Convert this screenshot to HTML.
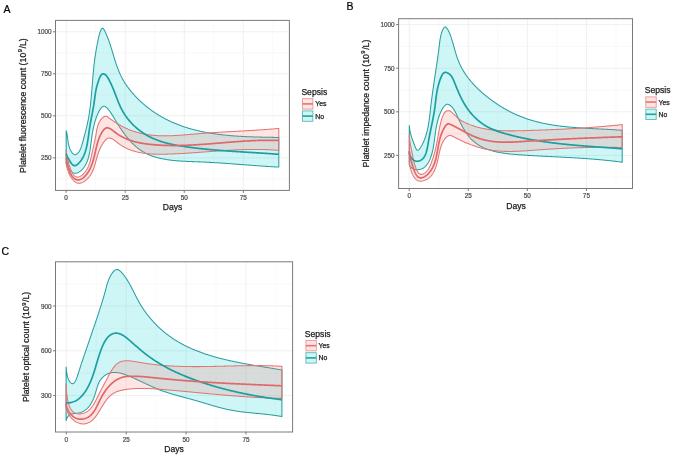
<!DOCTYPE html>
<html><head><meta charset="utf-8"><style>
html,body{margin:0;padding:0;background:#fff;}
svg{display:block;font-family:"Liberation Sans",sans-serif;filter:blur(0.35px);}
.tk{fill:#4d4d4d;stroke:#4d4d4d;stroke-width:0.22px;}
.ti{fill:#1a1a1a;stroke:#1a1a1a;stroke-width:0.25px;}
.pl{fill:#000;stroke:#000;stroke-width:0.2px;}
</style></head><body>
<svg width="675" height="458" viewBox="0 0 675 458">
<rect width="675" height="458" fill="#fff"/>
<rect x="55.5" y="20.4" width="233.89999999999998" height="170.0" fill="#fff"/>
<line x1="95.66" y1="20.4" x2="95.66" y2="190.4" stroke="#F6F6F6" stroke-width="0.7"/>
<line x1="154.73" y1="20.4" x2="154.73" y2="190.4" stroke="#F6F6F6" stroke-width="0.7"/>
<line x1="213.79" y1="20.4" x2="213.79" y2="190.4" stroke="#F6F6F6" stroke-width="0.7"/>
<line x1="272.86" y1="20.4" x2="272.86" y2="190.4" stroke="#F6F6F6" stroke-width="0.7"/>
<line x1="55.5" y1="178.8" x2="289.4" y2="178.8" stroke="#F6F6F6" stroke-width="0.7"/>
<line x1="55.5" y1="136.8" x2="289.4" y2="136.8" stroke="#F6F6F6" stroke-width="0.7"/>
<line x1="55.5" y1="94.8" x2="289.4" y2="94.8" stroke="#F6F6F6" stroke-width="0.7"/>
<line x1="55.5" y1="52.8" x2="289.4" y2="52.8" stroke="#F6F6F6" stroke-width="0.7"/>
<line x1="66.13" y1="20.4" x2="66.13" y2="190.4" stroke="#F0F0F0" stroke-width="1"/>
<line x1="125.19" y1="20.4" x2="125.19" y2="190.4" stroke="#F0F0F0" stroke-width="1"/>
<line x1="184.26" y1="20.4" x2="184.26" y2="190.4" stroke="#F0F0F0" stroke-width="1"/>
<line x1="243.32" y1="20.4" x2="243.32" y2="190.4" stroke="#F0F0F0" stroke-width="1"/>
<line x1="55.5" y1="157.8" x2="289.4" y2="157.8" stroke="#F0F0F0" stroke-width="1"/>
<line x1="55.5" y1="115.8" x2="289.4" y2="115.8" stroke="#F0F0F0" stroke-width="1"/>
<line x1="55.5" y1="73.8" x2="289.4" y2="73.8" stroke="#F0F0F0" stroke-width="1"/>
<line x1="55.5" y1="31.8" x2="289.4" y2="31.8" stroke="#F0F0F0" stroke-width="1"/>
<polygon points="66.20,130.70 66.38,131.32 66.55,131.94 66.70,132.59 66.85,133.24 66.97,133.91 67.09,134.58 67.21,135.27 67.31,135.96 67.41,136.67 67.50,137.38 67.60,138.09 67.69,138.81 67.79,139.53 67.88,140.26 67.98,140.99 68.09,141.71 68.21,142.44 68.33,143.16 68.47,143.88 68.61,144.60 68.78,145.31 68.95,146.02 69.15,146.72 69.36,147.41 69.59,148.09 69.85,148.76 70.13,149.42 70.43,150.07 70.76,150.70 71.12,151.32 71.51,151.92 71.93,152.51 72.38,153.07 72.85,153.58 73.35,154.03 73.86,154.37 74.38,154.61 74.90,154.70 75.43,154.65 75.94,154.49 76.45,154.22 76.93,153.88 77.40,153.49 77.84,153.07 78.26,152.61 78.65,152.11 79.02,151.59 79.38,151.04 79.71,150.46 80.03,149.86 80.33,149.24 80.61,148.59 80.89,147.93 81.14,147.25 81.39,146.56 81.63,145.86 81.86,145.15 82.07,144.43 82.29,143.70 82.49,142.98 82.69,142.25 82.89,141.52 83.09,140.80 83.28,140.08 83.47,139.37 83.66,138.66 83.85,137.95 84.04,137.26 84.23,136.56 84.41,135.87 84.59,135.18 84.77,134.49 84.95,133.81 85.13,133.13 85.31,132.46 85.48,131.79 85.65,131.11 85.82,130.45 85.99,129.78 86.15,129.11 86.31,128.45 86.48,127.78 86.63,127.12 86.79,126.46 86.94,125.80 87.10,125.14 87.24,124.48 87.39,123.81 87.53,123.15 87.68,122.49 87.81,121.83 87.95,121.16 88.08,120.50 88.21,119.83 88.34,119.16 88.47,118.49 88.59,117.82 88.71,117.14 88.82,116.46 88.94,115.79 89.05,115.11 89.16,114.43 89.27,113.74 89.37,113.06 89.48,112.38 89.58,111.69 89.67,111.00 89.77,110.31 89.86,109.62 89.96,108.93 90.05,108.24 90.13,107.55 90.22,106.85 90.31,106.15 90.39,105.46 90.47,104.76 90.55,104.06 90.63,103.36 90.70,102.66 90.78,101.96 90.85,101.26 90.92,100.56 91.00,99.85 91.06,99.15 91.13,98.44 91.20,97.74 91.27,97.03 91.33,96.33 91.40,95.62 91.46,94.91 91.52,94.20 91.58,93.50 91.64,92.79 91.70,92.08 91.76,91.37 91.82,90.66 91.88,89.95 91.94,89.24 92.00,88.53 92.05,87.83 92.11,87.12 92.17,86.41 92.22,85.70 92.28,84.99 92.33,84.28 92.39,83.57 92.45,82.86 92.50,82.15 92.56,81.45 92.61,80.74 92.67,80.03 92.72,79.33 92.78,78.62 92.84,77.92 92.90,77.21 92.95,76.51 93.01,75.81 93.07,75.11 93.13,74.41 93.19,73.71 93.25,73.01 93.31,72.31 93.38,71.62 93.44,70.93 93.50,70.24 93.57,69.55 93.64,68.86 93.70,68.18 93.77,67.49 93.84,66.81 93.91,66.13 93.99,65.46 94.06,64.78 94.13,64.11 94.21,63.44 94.29,62.78 94.37,62.12 94.45,61.45 94.53,60.79 94.62,60.14 94.71,59.48 94.79,58.82 94.88,58.16 94.98,57.51 95.07,56.85 95.17,56.19 95.27,55.53 95.37,54.87 95.47,54.21 95.57,53.55 95.68,52.88 95.79,52.21 95.90,51.54 96.02,50.86 96.14,50.18 96.26,49.49 96.38,48.80 96.50,48.11 96.63,47.41 96.76,46.70 96.90,45.99 97.03,45.27 97.17,44.55 97.32,43.81 97.46,43.07 97.61,42.33 97.76,41.57 97.92,40.81 98.08,40.03 98.24,39.25 98.41,38.46 98.58,37.67 98.75,36.88 98.94,36.09 99.13,35.31 99.32,34.54 99.53,33.79 99.75,33.06 99.98,32.35 100.22,31.67 100.47,31.02 100.74,30.40 101.02,29.82 101.32,29.29 101.64,28.82 101.97,28.47 102.32,28.28 102.68,28.29 103.06,28.48 103.43,28.82 103.78,29.29 104.12,29.84 104.45,30.45 104.77,31.09 105.08,31.73 105.39,32.37 105.69,33.01 105.98,33.66 106.27,34.30 106.55,34.95 106.83,35.60 107.10,36.25 107.37,36.90 107.63,37.55 107.88,38.21 108.14,38.86 108.38,39.52 108.62,40.17 108.86,40.83 109.10,41.49 109.33,42.15 109.56,42.81 109.78,43.47 110.00,44.13 110.22,44.79 110.44,45.45 110.65,46.11 110.86,46.78 111.07,47.44 111.28,48.10 111.48,48.77 111.68,49.43 111.89,50.09 112.09,50.76 112.29,51.42 112.49,52.09 112.69,52.75 112.88,53.41 113.08,54.08 113.28,54.74 113.48,55.40 113.68,56.07 113.88,56.73 114.08,57.39 114.28,58.05 114.48,58.71 114.69,59.37 114.89,60.03 115.10,60.69 115.31,61.35 115.52,62.01 115.73,62.66 115.95,63.32 116.17,63.97 116.39,64.62 116.62,65.28 116.85,65.93 117.08,66.58 117.31,67.22 117.55,67.87 117.80,68.52 118.05,69.16 118.30,69.80 118.55,70.45 118.81,71.08 119.08,71.72 119.35,72.36 119.63,72.99 119.91,73.63 120.19,74.26 120.49,74.88 120.78,75.51 121.09,76.14 121.39,76.76 121.71,77.38 122.03,78.00 122.36,78.61 122.69,79.23 123.03,79.84 123.38,80.45 123.74,81.05 124.10,81.66 124.47,82.26 124.84,82.86 125.23,83.46 125.61,84.05 126.01,84.64 126.41,85.23 126.82,85.81 127.23,86.39 127.65,86.97 128.07,87.55 128.50,88.12 128.93,88.69 129.37,89.26 129.81,89.82 130.26,90.38 130.71,90.94 131.17,91.49 131.62,92.04 132.09,92.59 132.55,93.13 133.03,93.67 133.50,94.20 133.98,94.73 134.46,95.26 134.94,95.78 135.42,96.30 135.91,96.82 136.40,97.33 136.90,97.84 137.39,98.35 137.89,98.85 138.39,99.34 138.90,99.84 139.40,100.33 139.91,100.81 140.43,101.29 140.94,101.77 141.46,102.25 141.98,102.72 142.50,103.19 143.03,103.65 143.56,104.11 144.09,104.56 144.62,105.02 145.16,105.46 145.69,105.91 146.23,106.35 146.78,106.79 147.32,107.22 147.87,107.65 148.42,108.08 148.97,108.50 149.53,108.92 150.08,109.33 150.64,109.75 151.20,110.15 151.77,110.56 152.34,110.96 152.90,111.36 153.47,111.75 154.05,112.14 154.62,112.53 155.20,112.91 155.78,113.29 156.36,113.66 156.94,114.03 157.53,114.40 158.12,114.77 158.71,115.13 159.30,115.49 159.89,115.84 160.49,116.19 161.09,116.54 161.69,116.88 162.29,117.22 162.89,117.56 163.50,117.89 164.11,118.22 164.71,118.54 165.33,118.87 165.94,119.19 166.55,119.50 167.17,119.81 167.79,120.12 168.41,120.43 169.03,120.73 169.66,121.02 170.28,121.32 170.91,121.61 171.54,121.90 172.17,122.18 172.80,122.46 173.43,122.74 174.07,123.01 174.71,123.28 175.35,123.55 175.99,123.81 176.63,124.07 177.27,124.33 177.92,124.58 178.56,124.83 179.21,125.08 179.86,125.32 180.51,125.56 181.16,125.80 181.81,126.03 182.47,126.26 183.13,126.49 183.78,126.71 184.44,126.93 185.10,127.15 185.76,127.36 186.43,127.57 187.09,127.78 187.76,127.98 188.42,128.18 189.09,128.38 189.76,128.58 190.43,128.77 191.10,128.96 191.77,129.14 192.45,129.33 193.12,129.51 193.80,129.68 194.47,129.86 195.15,130.03 195.83,130.20 196.51,130.36 197.19,130.53 197.87,130.69 198.55,130.85 199.24,131.00 199.92,131.16 200.61,131.31 201.29,131.45 201.98,131.60 202.67,131.74 203.36,131.88 204.05,132.02 204.74,132.15 205.43,132.28 206.12,132.41 206.81,132.54 207.51,132.67 208.20,132.79 208.90,132.91 209.59,133.03 210.29,133.14 210.98,133.26 211.68,133.37 212.38,133.48 213.08,133.59 213.78,133.69 214.48,133.79 215.18,133.89 215.88,133.99 216.58,134.09 217.28,134.18 217.98,134.28 218.68,134.37 219.39,134.46 220.09,134.54 220.79,134.63 221.50,134.71 222.20,134.79 222.91,134.87 223.61,134.95 224.32,135.02 225.02,135.10 225.73,135.17 226.44,135.24 227.14,135.31 227.85,135.38 228.56,135.44 229.26,135.50 229.97,135.57 230.68,135.63 231.38,135.69 232.09,135.74 232.80,135.80 233.51,135.86 234.22,135.91 234.92,135.96 235.63,136.01 236.34,136.06 237.05,136.11 237.75,136.16 238.46,136.20 239.17,136.24 239.88,136.29 240.58,136.33 241.29,136.37 242.00,136.41 242.70,136.45 243.41,136.48 244.12,136.52 244.82,136.55 245.53,136.59 246.24,136.62 246.94,136.65 247.65,136.68 248.35,136.71 249.06,136.74 249.76,136.77 250.46,136.80 251.17,136.83 251.87,136.85 252.57,136.88 253.27,136.90 253.98,136.92 254.68,136.95 255.38,136.97 256.08,136.99 256.78,137.01 257.48,137.03 258.18,137.05 258.87,137.07 259.57,137.09 260.27,137.11 260.96,137.12 261.66,137.14 262.35,137.16 263.05,137.17 263.74,137.19 264.44,137.20 265.13,137.22 265.82,137.23 266.51,137.25 267.20,137.26 267.89,137.28 268.58,137.29 269.26,137.30 269.95,137.32 270.64,137.33 271.32,137.34 272.00,137.36 272.69,137.37 273.37,137.38 274.05,137.40 274.73,137.41 275.41,137.42 276.09,137.44 276.76,137.45 277.44,137.46 278.11,137.48 278.79,137.49 278.81,167.09 278.08,167.06 277.35,167.02 276.62,166.98 275.90,166.94 275.17,166.90 274.45,166.86 273.73,166.82 273.01,166.77 272.29,166.73 271.57,166.69 270.86,166.65 270.14,166.60 269.43,166.56 268.72,166.51 268.01,166.47 267.30,166.42 266.59,166.38 265.88,166.33 265.18,166.29 264.47,166.24 263.77,166.19 263.07,166.15 262.36,166.10 261.66,166.05 260.96,166.00 260.26,165.95 259.57,165.90 258.87,165.85 258.17,165.81 257.48,165.76 256.79,165.71 256.09,165.66 255.40,165.61 254.71,165.55 254.02,165.50 253.33,165.45 252.64,165.40 251.95,165.35 251.26,165.30 250.57,165.25 249.88,165.20 249.20,165.14 248.51,165.09 247.83,165.04 247.14,164.99 246.46,164.94 245.77,164.89 245.09,164.83 244.40,164.78 243.72,164.73 243.04,164.68 242.36,164.62 241.67,164.57 240.99,164.52 240.31,164.47 239.63,164.42 238.95,164.36 238.27,164.31 237.59,164.26 236.91,164.21 236.22,164.16 235.54,164.11 234.86,164.06 234.18,164.00 233.50,163.95 232.82,163.90 232.14,163.85 231.46,163.80 230.78,163.75 230.10,163.70 229.42,163.65 228.74,163.60 228.05,163.55 227.37,163.50 226.69,163.45 226.01,163.41 225.32,163.36 224.64,163.31 223.96,163.26 223.27,163.21 222.59,163.17 221.90,163.12 221.22,163.08 220.53,163.03 219.85,162.98 219.16,162.94 218.47,162.89 217.79,162.85 217.10,162.81 216.41,162.76 215.72,162.72 215.03,162.68 214.34,162.64 213.64,162.59 212.95,162.55 212.26,162.51 211.56,162.47 210.87,162.43 210.17,162.39 209.47,162.36 208.78,162.32 208.08,162.28 207.38,162.24 206.68,162.21 205.98,162.17 205.27,162.14 204.57,162.10 203.86,162.07 203.16,162.04 202.45,162.01 201.74,161.98 201.03,161.94 200.32,161.91 199.61,161.89 198.89,161.86 198.18,161.83 197.46,161.80 196.75,161.77 196.03,161.75 195.31,161.72 194.59,161.69 193.87,161.67 193.15,161.64 192.43,161.62 191.70,161.59 190.98,161.56 190.26,161.53 189.53,161.50 188.81,161.47 188.09,161.44 187.36,161.41 186.64,161.38 185.91,161.35 185.19,161.31 184.47,161.27 183.74,161.24 183.02,161.20 182.29,161.15 181.57,161.11 180.85,161.07 180.13,161.02 179.41,160.97 178.69,160.92 177.97,160.86 177.25,160.81 176.53,160.75 175.81,160.68 175.10,160.62 174.38,160.55 173.67,160.48 172.96,160.41 172.25,160.33 171.54,160.25 170.83,160.16 170.13,160.07 169.42,159.98 168.72,159.89 168.02,159.79 167.32,159.68 166.62,159.58 165.93,159.46 165.24,159.35 164.55,159.23 163.86,159.10 163.17,158.97 162.49,158.83 161.81,158.69 161.13,158.55 160.45,158.40 159.78,158.24 159.11,158.08 158.44,157.92 157.78,157.74 157.12,157.57 156.46,157.38 155.80,157.19 155.15,157.00 154.50,156.80 153.86,156.59 153.21,156.38 152.57,156.16 151.94,155.93 151.31,155.69 150.68,155.45 150.05,155.21 149.43,154.95 148.82,154.69 148.21,154.42 147.60,154.15 146.99,153.86 146.39,153.57 145.80,153.27 145.21,152.97 144.62,152.65 144.04,152.33 143.46,152.00 142.88,151.66 142.32,151.31 141.75,150.96 141.19,150.59 140.64,150.22 140.09,149.84 139.54,149.45 139.00,149.06 138.47,148.65 137.94,148.24 137.41,147.82 136.89,147.40 136.37,146.97 135.85,146.53 135.34,146.08 134.84,145.63 134.33,145.17 133.84,144.70 133.34,144.23 132.85,143.75 132.37,143.26 131.88,142.77 131.41,142.27 130.93,141.77 130.46,141.26 129.99,140.75 129.53,140.23 129.07,139.71 128.61,139.18 128.16,138.64 127.71,138.11 127.26,137.56 126.82,137.01 126.37,136.46 125.94,135.91 125.50,135.35 125.07,134.78 124.64,134.22 124.22,133.64 123.80,133.07 123.38,132.49 122.96,131.91 122.54,131.32 122.13,130.74 121.72,130.15 121.32,129.55 120.91,128.96 120.51,128.36 120.11,127.76 119.72,127.16 119.32,126.55 118.93,125.95 118.54,125.34 118.15,124.73 117.77,124.12 117.38,123.51 117.00,122.89 116.62,122.28 116.25,121.66 115.87,121.04 115.50,120.43 115.12,119.81 114.75,119.19 114.38,118.57 114.02,117.95 113.65,117.34 113.28,116.72 112.91,116.10 112.55,115.49 112.17,114.88 111.80,114.28 111.42,113.68 111.03,113.09 110.63,112.51 110.23,111.93 109.82,111.36 109.40,110.81 108.97,110.26 108.52,109.72 108.07,109.20 107.59,108.69 107.11,108.20 106.61,107.72 106.09,107.28 105.58,106.90 105.06,106.59 104.54,106.36 104.04,106.25 103.55,106.26 103.07,106.39 102.60,106.63 102.15,106.95 101.72,107.34 101.29,107.79 100.88,108.29 100.49,108.83 100.10,109.41 99.73,110.03 99.37,110.67 99.02,111.33 98.68,112.01 98.35,112.70 98.03,113.39 97.73,114.09 97.43,114.78 97.15,115.47 96.87,116.15 96.61,116.84 96.35,117.52 96.10,118.19 95.87,118.87 95.64,119.54 95.42,120.21 95.20,120.87 95.00,121.54 94.80,122.20 94.61,122.86 94.43,123.52 94.25,124.18 94.08,124.84 93.92,125.50 93.76,126.16 93.61,126.81 93.46,127.47 93.32,128.13 93.18,128.79 93.05,129.44 92.92,130.10 92.80,130.76 92.68,131.42 92.57,132.08 92.46,132.75 92.35,133.41 92.24,134.08 92.14,134.75 92.04,135.42 91.94,136.09 91.85,136.77 91.75,137.45 91.66,138.13 91.57,138.82 91.48,139.51 91.39,140.20 91.30,140.89 91.21,141.59 91.12,142.30 91.03,143.01 90.93,143.72 90.84,144.44 90.75,145.16 90.65,145.88 90.56,146.61 90.45,147.33 90.35,148.06 90.24,148.79 90.13,149.51 90.01,150.24 89.89,150.97 89.77,151.69 89.63,152.42 89.49,153.14 89.35,153.86 89.20,154.57 89.04,155.28 88.87,155.99 88.69,156.69 88.51,157.38 88.31,158.07 88.11,158.75 87.89,159.43 87.67,160.10 87.44,160.76 87.19,161.41 86.93,162.05 86.66,162.69 86.38,163.31 86.08,163.92 85.77,164.52 85.45,165.11 85.11,165.69 84.76,166.25 84.39,166.80 84.01,167.34 83.61,167.87 83.20,168.37 82.77,168.87 82.32,169.35 81.85,169.81 81.37,170.25 80.87,170.68 80.34,171.09 79.80,171.48 79.24,171.86 78.67,172.20 78.08,172.51 77.48,172.77 76.87,172.99 76.26,173.15 75.64,173.24 75.02,173.27 74.40,173.22 73.78,173.09 73.17,172.87 72.57,172.55 71.98,172.13 71.40,171.63 70.84,171.06 70.29,170.43 69.77,169.75 69.27,169.05 68.79,168.32 68.35,167.59 67.93,166.88 67.54,166.18 67.20,165.52 66.89,164.91 66.62,164.36 66.39,163.89 66.20,163.51" fill="#00CDD2" fill-opacity="0.19" stroke="#2A9E9F" stroke-width="1.05" stroke-linejoin="round"/>
<polygon points="66.21,150.00 66.29,150.78 66.38,151.54 66.47,152.28 66.56,153.00 66.66,153.71 66.76,154.40 66.86,155.07 66.96,155.73 67.07,156.39 67.18,157.03 67.30,157.66 67.43,158.29 67.56,158.92 67.70,159.54 67.84,160.16 67.99,160.79 68.15,161.41 68.32,162.04 68.50,162.68 68.69,163.32 68.89,163.97 69.10,164.63 69.32,165.30 69.55,165.99 69.79,166.70 70.05,167.42 70.32,168.16 70.60,168.91 70.90,169.66 71.21,170.42 71.54,171.17 71.88,171.90 72.24,172.61 72.61,173.30 73.00,173.95 73.41,174.55 73.84,175.11 74.28,175.61 74.75,176.05 75.23,176.42 75.73,176.72 76.26,176.93 76.80,177.06 77.36,177.12 77.92,177.09 78.50,177.00 79.08,176.84 79.67,176.63 80.25,176.35 80.83,176.02 81.39,175.64 81.95,175.22 82.50,174.76 83.04,174.27 83.56,173.74 84.07,173.19 84.56,172.61 85.03,172.02 85.48,171.41 85.92,170.79 86.33,170.17 86.72,169.54 87.09,168.92 87.43,168.29 87.76,167.67 88.07,167.04 88.36,166.41 88.63,165.78 88.89,165.15 89.13,164.51 89.36,163.88 89.58,163.25 89.78,162.61 89.98,161.97 90.16,161.33 90.33,160.69 90.50,160.05 90.66,159.41 90.81,158.76 90.96,158.11 91.10,157.47 91.24,156.82 91.38,156.16 91.52,155.51 91.65,154.85 91.79,154.20 91.93,153.54 92.07,152.88 92.22,152.21 92.36,151.55 92.51,150.88 92.66,150.21 92.81,149.54 92.96,148.86 93.12,148.19 93.27,147.51 93.42,146.83 93.58,146.14 93.73,145.45 93.89,144.77 94.04,144.07 94.19,143.38 94.35,142.68 94.50,141.98 94.65,141.28 94.80,140.57 94.95,139.87 95.09,139.16 95.24,138.44 95.38,137.72 95.52,137.00 95.65,136.28 95.79,135.55 95.92,134.82 96.05,134.09 96.17,133.36 96.30,132.62 96.42,131.88 96.55,131.14 96.68,130.41 96.82,129.68 96.96,128.95 97.12,128.23 97.28,127.51 97.46,126.80 97.65,126.10 97.86,125.42 98.09,124.74 98.33,124.07 98.60,123.42 98.89,122.79 99.20,122.17 99.54,121.57 99.90,120.98 100.28,120.42 100.69,119.88 101.10,119.36 101.54,118.86 101.99,118.39 102.45,117.95 102.92,117.53 103.39,117.14 103.88,116.79 104.37,116.49 104.86,116.27 105.37,116.15 105.88,116.14 106.40,116.26 106.92,116.49 107.45,116.80 107.98,117.17 108.52,117.58 109.07,117.99 109.62,118.40 110.17,118.81 110.73,119.22 111.30,119.62 111.87,120.03 112.45,120.43 113.03,120.82 113.61,121.22 114.20,121.61 114.80,122.00 115.39,122.38 116.00,122.76 116.60,123.14 117.21,123.51 117.82,123.88 118.44,124.25 119.06,124.61 119.68,124.96 120.31,125.32 120.93,125.66 121.57,126.00 122.20,126.34 122.84,126.67 123.47,127.00 124.12,127.32 124.76,127.64 125.40,127.95 126.05,128.25 126.70,128.55 127.35,128.84 128.00,129.13 128.65,129.40 129.30,129.68 129.96,129.94 130.61,130.20 131.27,130.45 131.93,130.70 132.58,130.93 133.24,131.16 133.90,131.39 134.56,131.61 135.22,131.82 135.88,132.02 136.55,132.22 137.21,132.41 137.87,132.60 138.54,132.78 139.20,132.95 139.87,133.12 140.54,133.28 141.20,133.44 141.87,133.59 142.54,133.73 143.21,133.87 143.88,134.00 144.55,134.13 145.22,134.25 145.89,134.37 146.57,134.48 147.24,134.59 147.92,134.69 148.59,134.79 149.27,134.88 149.94,134.97 150.62,135.05 151.30,135.13 151.97,135.20 152.65,135.27 153.33,135.33 154.01,135.39 154.69,135.45 155.37,135.50 156.05,135.55 156.73,135.59 157.42,135.63 158.10,135.67 158.78,135.70 159.47,135.73 160.15,135.75 160.84,135.77 161.52,135.79 162.21,135.80 162.90,135.81 163.58,135.82 164.27,135.82 164.96,135.82 165.65,135.82 166.34,135.82 167.02,135.81 167.71,135.80 168.40,135.78 169.10,135.77 169.79,135.75 170.48,135.73 171.17,135.70 171.86,135.68 172.56,135.65 173.25,135.62 173.94,135.58 174.64,135.55 175.33,135.51 176.03,135.47 176.72,135.43 177.42,135.39 178.11,135.35 178.81,135.30 179.51,135.25 180.20,135.21 180.90,135.16 181.60,135.11 182.30,135.05 182.99,135.00 183.69,134.95 184.39,134.89 185.09,134.83 185.79,134.78 186.49,134.72 187.19,134.66 187.89,134.60 188.59,134.54 189.29,134.48 189.99,134.42 190.69,134.36 191.40,134.30 192.10,134.24 192.80,134.18 193.50,134.12 194.20,134.06 194.91,133.99 195.61,133.93 196.31,133.87 197.02,133.81 197.72,133.76 198.42,133.70 199.13,133.64 199.83,133.58 200.53,133.53 201.24,133.47 201.94,133.42 202.65,133.36 203.35,133.31 204.06,133.25 204.76,133.20 205.47,133.15 206.17,133.10 206.88,133.05 207.58,133.00 208.29,132.95 208.99,132.90 209.70,132.85 210.40,132.81 211.11,132.76 211.81,132.71 212.52,132.67 213.22,132.62 213.93,132.58 214.64,132.53 215.34,132.49 216.05,132.44 216.75,132.40 217.46,132.36 218.16,132.31 218.87,132.27 219.58,132.23 220.28,132.19 220.99,132.15 221.69,132.11 222.40,132.07 223.10,132.03 223.81,131.98 224.51,131.95 225.22,131.91 225.92,131.87 226.63,131.83 227.33,131.79 228.04,131.75 228.74,131.71 229.45,131.67 230.15,131.63 230.86,131.60 231.56,131.56 232.27,131.52 232.97,131.48 233.67,131.44 234.38,131.40 235.08,131.37 235.78,131.33 236.49,131.29 237.19,131.25 237.89,131.22 238.60,131.18 239.30,131.14 240.00,131.10 240.70,131.06 241.40,131.02 242.11,130.99 242.81,130.95 243.51,130.91 244.21,130.87 244.91,130.83 245.61,130.79 246.31,130.75 247.01,130.71 247.71,130.67 248.41,130.63 249.11,130.59 249.81,130.55 250.50,130.51 251.20,130.47 251.90,130.43 252.60,130.39 253.29,130.34 253.99,130.30 254.69,130.26 255.38,130.21 256.08,130.17 256.77,130.13 257.47,130.08 258.16,130.04 258.86,129.99 259.55,129.94 260.24,129.90 260.94,129.85 261.63,129.80 262.32,129.75 263.01,129.70 263.70,129.66 264.39,129.61 265.08,129.56 265.77,129.50 266.46,129.45 267.15,129.40 267.84,129.35 268.53,129.29 269.22,129.24 269.90,129.18 270.59,129.13 271.28,129.07 271.96,129.01 272.65,128.96 273.33,128.90 274.02,128.84 274.70,128.78 275.38,128.71 276.06,128.65 276.75,128.59 277.43,128.53 278.11,128.46 278.79,128.40 278.81,150.43 278.10,150.37 277.39,150.31 276.68,150.25 275.98,150.20 275.27,150.14 274.56,150.09 273.86,150.04 273.15,150.00 272.45,149.95 271.74,149.91 271.04,149.87 270.33,149.83 269.63,149.79 268.93,149.76 268.22,149.72 267.52,149.69 266.82,149.66 266.12,149.64 265.41,149.61 264.71,149.59 264.01,149.56 263.31,149.54 262.61,149.53 261.91,149.51 261.21,149.49 260.51,149.48 259.81,149.47 259.11,149.46 258.41,149.45 257.71,149.44 257.01,149.44 256.31,149.43 255.61,149.43 254.92,149.43 254.22,149.43 253.52,149.43 252.82,149.43 252.13,149.44 251.43,149.45 250.73,149.45 250.04,149.46 249.34,149.47 248.64,149.48 247.95,149.50 247.25,149.51 246.56,149.53 245.86,149.54 245.17,149.56 244.47,149.58 243.78,149.60 243.08,149.62 242.39,149.64 241.69,149.67 241.00,149.69 240.30,149.72 239.61,149.74 238.92,149.77 238.22,149.80 237.53,149.83 236.83,149.86 236.14,149.89 235.45,149.92 234.75,149.96 234.06,149.99 233.37,150.03 232.67,150.06 231.98,150.10 231.29,150.14 230.60,150.17 229.90,150.21 229.21,150.25 228.52,150.29 227.82,150.33 227.13,150.38 226.44,150.42 225.75,150.46 225.05,150.51 224.36,150.55 223.67,150.59 222.98,150.64 222.29,150.69 221.59,150.73 220.90,150.78 220.21,150.83 219.52,150.87 218.82,150.92 218.13,150.97 217.44,151.02 216.75,151.07 216.05,151.12 215.36,151.17 214.67,151.22 213.98,151.27 213.28,151.32 212.59,151.37 211.90,151.42 211.21,151.47 210.51,151.52 209.82,151.57 209.13,151.62 208.44,151.67 207.74,151.73 207.05,151.78 206.36,151.83 205.66,151.88 204.97,151.93 204.28,151.98 203.58,152.04 202.89,152.09 202.19,152.14 201.50,152.19 200.81,152.24 200.11,152.29 199.42,152.34 198.72,152.39 198.03,152.44 197.33,152.49 196.64,152.54 195.94,152.59 195.25,152.64 194.55,152.69 193.86,152.74 193.16,152.79 192.47,152.83 191.77,152.88 191.07,152.93 190.38,152.98 189.68,153.02 188.98,153.07 188.29,153.11 187.59,153.16 186.89,153.20 186.19,153.24 185.50,153.29 184.80,153.33 184.10,153.37 183.40,153.41 182.70,153.45 182.00,153.49 181.30,153.53 180.60,153.56 179.90,153.60 179.20,153.64 178.50,153.67 177.80,153.71 177.10,153.74 176.40,153.77 175.70,153.81 175.00,153.84 174.29,153.87 173.59,153.90 172.89,153.92 172.19,153.95 171.48,153.98 170.78,154.00 170.07,154.03 169.37,154.05 168.66,154.07 167.96,154.09 167.25,154.11 166.55,154.13 165.84,154.15 165.14,154.16 164.43,154.18 163.72,154.19 163.02,154.20 162.31,154.21 161.60,154.21 160.89,154.22 160.19,154.22 159.48,154.22 158.77,154.22 158.07,154.21 157.36,154.20 156.66,154.19 155.95,154.17 155.25,154.15 154.54,154.13 153.84,154.11 153.14,154.08 152.43,154.04 151.73,154.00 151.03,153.96 150.33,153.91 149.63,153.86 148.94,153.81 148.24,153.75 147.54,153.68 146.85,153.61 146.15,153.53 145.46,153.45 144.77,153.37 144.08,153.27 143.39,153.17 142.71,153.07 142.02,152.96 141.34,152.84 140.65,152.72 139.97,152.59 139.29,152.45 138.62,152.31 137.94,152.16 137.27,152.00 136.60,151.84 135.93,151.66 135.26,151.48 134.59,151.30 133.93,151.10 133.27,150.90 132.61,150.69 131.95,150.47 131.30,150.24 130.65,150.00 130.00,149.76 129.35,149.50 128.71,149.24 128.06,148.97 127.42,148.68 126.79,148.39 126.15,148.09 125.52,147.78 124.90,147.46 124.27,147.13 123.65,146.79 123.03,146.44 122.41,146.08 121.80,145.71 121.19,145.32 120.59,144.93 119.98,144.53 119.38,144.11 118.79,143.69 118.19,143.25 117.61,142.80 117.02,142.34 116.44,141.89 115.86,141.44 115.28,141.00 114.71,140.57 114.15,140.16 113.58,139.77 113.03,139.41 112.47,139.08 111.92,138.79 111.37,138.54 110.83,138.34 110.29,138.19 109.76,138.10 109.23,138.07 108.70,138.10 108.18,138.21 107.66,138.39 107.15,138.65 106.65,138.99 106.15,139.40 105.65,139.87 105.17,140.39 104.70,140.95 104.23,141.54 103.79,142.16 103.35,142.78 102.93,143.41 102.53,144.04 102.14,144.68 101.76,145.33 101.40,145.97 101.05,146.63 100.71,147.28 100.39,147.94 100.07,148.61 99.77,149.28 99.49,149.95 99.21,150.62 98.95,151.29 98.69,151.97 98.45,152.65 98.21,153.33 97.98,154.01 97.76,154.69 97.55,155.38 97.34,156.06 97.14,156.75 96.94,157.43 96.75,158.12 96.56,158.80 96.37,159.48 96.18,160.16 95.99,160.84 95.81,161.52 95.62,162.20 95.43,162.87 95.24,163.54 95.04,164.21 94.84,164.88 94.64,165.54 94.43,166.20 94.22,166.86 94.00,167.51 93.77,168.16 93.53,168.80 93.28,169.44 93.03,170.07 92.76,170.69 92.48,171.31 92.19,171.93 91.89,172.54 91.57,173.14 91.24,173.74 90.89,174.32 90.53,174.90 90.15,175.48 89.75,176.04 89.34,176.60 88.90,177.15 88.45,177.69 87.97,178.22 87.48,178.74 86.97,179.24 86.45,179.73 85.91,180.19 85.36,180.64 84.80,181.05 84.22,181.44 83.64,181.80 83.06,182.13 82.46,182.42 81.87,182.68 81.27,182.89 80.67,183.06 80.07,183.18 79.48,183.25 78.89,183.27 78.30,183.24 77.72,183.15 77.15,183.01 76.59,182.80 76.04,182.54 75.49,182.22 74.96,181.86 74.44,181.45 73.93,180.99 73.43,180.50 72.95,179.96 72.48,179.39 72.02,178.79 71.57,178.16 71.14,177.50 70.73,176.83 70.33,176.13 69.94,175.41 69.57,174.68 69.22,173.94 68.89,173.19 68.57,172.43 68.27,171.68 67.99,170.92 67.72,170.17 67.48,169.42 67.26,168.69 67.05,167.96 66.87,167.25 66.71,166.57 66.57,165.90 66.45,165.26 66.36,164.64 66.29,164.06 66.24,163.50 66.22,162.99 66.22,162.51" fill="#F8766D" fill-opacity="0.2" stroke="#E07676" stroke-width="1.05" stroke-linejoin="round"/>
<polyline points="66.20,153.60 66.33,154.23 66.51,154.84 66.72,155.43 66.97,156.02 67.25,156.61 67.57,157.20 67.91,157.80 68.28,158.43 68.67,159.08 69.09,159.76 69.53,160.49 69.98,161.24 70.46,162.00 70.95,162.74 71.45,163.44 71.96,164.08 72.48,164.63 73.01,165.08 73.55,165.39 74.08,165.57 74.62,165.63 75.16,165.58 75.69,165.43 76.22,165.19 76.74,164.88 77.26,164.52 77.76,164.11 78.25,163.66 78.72,163.20 79.18,162.72 79.62,162.23 80.04,161.73 80.46,161.22 80.85,160.69 81.24,160.16 81.61,159.61 81.96,159.05 82.30,158.49 82.63,157.91 82.95,157.32 83.25,156.73 83.55,156.12 83.83,155.51 84.10,154.89 84.36,154.26 84.60,153.62 84.84,152.98 85.07,152.32 85.29,151.67 85.50,151.00 85.70,150.33 85.90,149.66 86.08,148.97 86.26,148.29 86.43,147.60 86.60,146.90 86.75,146.20 86.90,145.50 87.05,144.79 87.19,144.08 87.32,143.37 87.45,142.65 87.58,141.93 87.70,141.21 87.81,140.49 87.93,139.77 88.04,139.04 88.15,138.32 88.25,137.60 88.35,136.87 88.46,136.15 88.56,135.42 88.66,134.70 88.75,133.98 88.85,133.26 88.95,132.54 89.05,131.83 89.15,131.12 89.25,130.41 89.35,129.70 89.46,129.00 89.56,128.30 89.67,127.60 89.78,126.91 89.89,126.22 90.01,125.54 90.12,124.86 90.24,124.18 90.36,123.50 90.48,122.83 90.60,122.15 90.72,121.48 90.85,120.81 90.97,120.15 91.10,119.48 91.22,118.82 91.35,118.15 91.48,117.49 91.60,116.83 91.73,116.16 91.86,115.50 91.99,114.84 92.11,114.18 92.24,113.51 92.36,112.85 92.49,112.18 92.61,111.51 92.74,110.85 92.86,110.18 92.98,109.50 93.10,108.83 93.22,108.15 93.34,107.47 93.45,106.79 93.56,106.10 93.68,105.42 93.79,104.72 93.89,104.03 94.00,103.33 94.10,102.62 94.20,101.92 94.30,101.20 94.40,100.49 94.49,99.77 94.59,99.05 94.68,98.34 94.78,97.62 94.88,96.90 94.97,96.18 95.07,95.47 95.17,94.75 95.28,94.05 95.39,93.34 95.50,92.64 95.61,91.95 95.73,91.26 95.86,90.58 95.99,89.90 96.13,89.24 96.27,88.58 96.42,87.94 96.58,87.29 96.75,86.65 96.92,86.01 97.11,85.37 97.30,84.71 97.50,84.04 97.72,83.35 97.94,82.65 98.18,81.92 98.42,81.16 98.68,80.37 98.96,79.57 99.24,78.78 99.54,78.01 99.86,77.27 100.18,76.59 100.53,75.98 100.89,75.44 101.26,74.98 101.64,74.60 102.03,74.29 102.43,74.07 102.84,73.92 103.25,73.85 103.67,73.87 104.09,73.96 104.51,74.14 104.93,74.39 105.35,74.71 105.77,75.09 106.18,75.53 106.59,76.03 106.99,76.56 107.39,77.13 107.78,77.74 108.16,78.37 108.54,79.02 108.91,79.68 109.27,80.35 109.62,81.02 109.96,81.69 110.30,82.37 110.63,83.04 110.95,83.71 111.27,84.38 111.57,85.05 111.88,85.73 112.17,86.40 112.46,87.07 112.75,87.74 113.03,88.41 113.31,89.08 113.58,89.75 113.85,90.42 114.11,91.08 114.37,91.75 114.63,92.42 114.89,93.08 115.14,93.74 115.40,94.40 115.65,95.07 115.90,95.72 116.15,96.38 116.40,97.04 116.65,97.69 116.90,98.35 117.15,99.00 117.40,99.65 117.66,100.30 117.91,100.94 118.17,101.58 118.43,102.23 118.69,102.87 118.96,103.50 119.23,104.14 119.50,104.77 119.78,105.40 120.06,106.03 120.35,106.65 120.64,107.27 120.94,107.89 121.25,108.51 121.56,109.12 121.87,109.73 122.20,110.34 122.53,110.94 122.87,111.54 123.21,112.14 123.57,112.73 123.93,113.32 124.30,113.91 124.67,114.49 125.06,115.07 125.45,115.65 125.84,116.22 126.25,116.79 126.66,117.35 127.08,117.91 127.50,118.47 127.93,119.02 128.37,119.57 128.81,120.11 129.26,120.65 129.72,121.18 130.18,121.71 130.65,122.23 131.12,122.75 131.60,123.27 132.08,123.78 132.57,124.28 133.07,124.78 133.57,125.27 134.08,125.76 134.59,126.25 135.10,126.73 135.63,127.20 136.15,127.67 136.68,128.13 137.22,128.58 137.76,129.03 138.31,129.48 138.86,129.92 139.41,130.35 139.97,130.77 140.53,131.19 141.10,131.61 141.67,132.02 142.24,132.42 142.82,132.81 143.40,133.20 143.99,133.58 144.58,133.96 145.17,134.32 145.77,134.69 146.37,135.04 146.97,135.39 147.57,135.73 148.18,136.06 148.79,136.39 149.41,136.71 150.02,137.02 150.64,137.33 151.27,137.63 151.89,137.92 152.52,138.21 153.15,138.49 153.78,138.77 154.42,139.04 155.06,139.30 155.70,139.56 156.34,139.81 156.99,140.06 157.63,140.30 158.28,140.54 158.94,140.77 159.59,140.99 160.25,141.21 160.90,141.43 161.56,141.64 162.22,141.84 162.89,142.05 163.55,142.24 164.22,142.43 164.89,142.62 165.56,142.81 166.23,142.98 166.90,143.16 167.58,143.33 168.26,143.50 168.93,143.66 169.61,143.82 170.29,143.98 170.97,144.13 171.66,144.28 172.34,144.43 173.03,144.57 173.71,144.71 174.40,144.85 175.09,144.98 175.77,145.11 176.46,145.24 177.15,145.36 177.84,145.49 178.53,145.61 179.23,145.73 179.92,145.84 180.61,145.96 181.31,146.07 182.00,146.18 182.69,146.28 183.39,146.39 184.08,146.50 184.78,146.60 185.47,146.70 186.17,146.80 186.86,146.90 187.56,147.00 188.25,147.09 188.95,147.19 189.64,147.28 190.34,147.38 191.03,147.47 191.73,147.56 192.42,147.65 193.12,147.73 193.81,147.82 194.51,147.91 195.20,147.99 195.90,148.08 196.59,148.16 197.29,148.24 197.98,148.32 198.68,148.40 199.37,148.48 200.07,148.56 200.76,148.63 201.46,148.71 202.16,148.78 202.85,148.86 203.55,148.93 204.24,149.00 204.94,149.07 205.63,149.14 206.33,149.21 207.02,149.28 207.72,149.35 208.41,149.41 209.11,149.48 209.81,149.55 210.50,149.61 211.20,149.67 211.89,149.74 212.59,149.80 213.28,149.86 213.98,149.92 214.68,149.98 215.37,150.04 216.07,150.10 216.76,150.15 217.46,150.21 218.16,150.27 218.85,150.32 219.55,150.38 220.24,150.43 220.94,150.49 221.64,150.54 222.33,150.59 223.03,150.65 223.72,150.70 224.42,150.75 225.12,150.80 225.81,150.85 226.51,150.90 227.20,150.95 227.90,151.00 228.60,151.05 229.29,151.09 229.99,151.14 230.69,151.19 231.38,151.24 232.08,151.28 232.77,151.33 233.47,151.37 234.17,151.42 234.86,151.47 235.56,151.51 236.26,151.56 236.95,151.60 237.65,151.64 238.35,151.69 239.04,151.73 239.74,151.77 240.44,151.82 241.13,151.86 241.83,151.90 242.53,151.95 243.22,151.99 243.92,152.03 244.62,152.07 245.31,152.12 246.01,152.16 246.71,152.20 247.41,152.24 248.10,152.29 248.80,152.33 249.50,152.37 250.19,152.41 250.89,152.45 251.59,152.50 252.28,152.54 252.98,152.58 253.68,152.62 254.38,152.66 255.07,152.71 255.77,152.75 256.47,152.79 257.17,152.83 257.86,152.88 258.56,152.92 259.26,152.96 259.96,153.01 260.65,153.05 261.35,153.10 262.05,153.14 262.75,153.18 263.44,153.23 264.14,153.27 264.84,153.32 265.54,153.36 266.23,153.41 266.93,153.46 267.63,153.50 268.33,153.55 269.03,153.60 269.72,153.64 270.42,153.69 271.12,153.74 271.82,153.79 272.52,153.84 273.21,153.89 273.91,153.94 274.61,153.99 275.31,154.04 276.01,154.09 276.71,154.15 277.40,154.20 278.10,154.25 278.80,154.31" fill="none" stroke="#1C9FA2" stroke-width="1.7" stroke-linejoin="round"/>
<polyline points="66.21,158.32 66.33,158.75 66.45,159.22 66.58,159.74 66.71,160.30 66.84,160.89 66.97,161.53 67.12,162.19 67.26,162.88 67.42,163.59 67.59,164.33 67.76,165.08 67.95,165.85 68.14,166.63 68.35,167.41 68.58,168.21 68.82,169.00 69.07,169.79 69.34,170.57 69.63,171.34 69.94,172.11 70.26,172.85 70.61,173.58 70.98,174.28 71.37,174.96 71.78,175.61 72.21,176.23 72.66,176.82 73.12,177.36 73.60,177.86 74.09,178.32 74.60,178.72 75.12,179.08 75.65,179.37 76.20,179.61 76.75,179.79 77.31,179.90 77.88,179.95 78.46,179.94 79.03,179.87 79.61,179.74 80.19,179.56 80.76,179.34 81.33,179.07 81.89,178.75 82.44,178.40 82.98,178.01 83.51,177.59 84.03,177.14 84.53,176.66 85.03,176.16 85.50,175.64 85.97,175.10 86.42,174.55 86.85,173.98 87.27,173.41 87.68,172.83 88.07,172.25 88.44,171.66 88.80,171.06 89.15,170.46 89.48,169.85 89.81,169.23 90.12,168.62 90.41,167.99 90.70,167.36 90.98,166.73 91.24,166.09 91.50,165.44 91.74,164.80 91.98,164.15 92.21,163.49 92.43,162.83 92.65,162.17 92.86,161.50 93.06,160.84 93.25,160.16 93.44,159.49 93.62,158.81 93.80,158.13 93.98,157.45 94.15,156.77 94.32,156.08 94.48,155.40 94.64,154.71 94.81,154.02 94.97,153.33 95.12,152.64 95.28,151.95 95.44,151.25 95.60,150.56 95.76,149.87 95.92,149.17 96.08,148.48 96.25,147.79 96.42,147.10 96.59,146.41 96.76,145.72 96.94,145.03 97.13,144.34 97.32,143.65 97.51,142.97 97.71,142.29 97.92,141.61 98.14,140.93 98.36,140.25 98.59,139.58 98.83,138.91 99.09,138.24 99.35,137.58 99.62,136.92 99.91,136.26 100.21,135.61 100.53,134.96 100.85,134.31 101.20,133.67 101.55,133.03 101.93,132.40 102.32,131.77 102.73,131.15 103.15,130.56 103.59,129.99 104.04,129.47 104.51,129.00 104.98,128.60 105.47,128.28 105.97,128.04 106.48,127.90 107.00,127.83 107.53,127.85 108.07,127.93 108.61,128.07 109.17,128.28 109.73,128.54 110.29,128.84 110.87,129.19 111.45,129.57 112.03,129.98 112.62,130.41 113.21,130.86 113.81,131.32 114.42,131.78 115.02,132.25 115.63,132.71 116.24,133.16 116.86,133.60 117.47,134.02 118.09,134.44 118.71,134.84 119.34,135.23 119.96,135.61 120.59,135.98 121.22,136.34 121.85,136.68 122.49,137.02 123.13,137.35 123.76,137.67 124.41,137.97 125.05,138.27 125.69,138.56 126.34,138.84 126.99,139.11 127.64,139.37 128.29,139.63 128.94,139.87 129.60,140.11 130.25,140.34 130.91,140.56 131.57,140.77 132.23,140.98 132.89,141.17 133.56,141.37 134.22,141.55 134.89,141.73 135.56,141.90 136.23,142.06 136.90,142.22 137.57,142.37 138.24,142.52 138.91,142.66 139.59,142.80 140.26,142.93 140.94,143.05 141.62,143.17 142.29,143.29 142.97,143.40 143.65,143.51 144.33,143.61 145.01,143.71 145.69,143.81 146.38,143.90 147.06,143.99 147.74,144.07 148.42,144.16 149.11,144.24 149.79,144.31 150.48,144.39 151.16,144.46 151.85,144.53 152.53,144.60 153.22,144.66 153.90,144.72 154.59,144.78 155.28,144.84 155.96,144.89 156.65,144.94 157.34,144.99 158.03,145.04 158.71,145.09 159.40,145.13 160.09,145.17 160.78,145.21 161.47,145.24 162.16,145.28 162.85,145.31 163.54,145.34 164.23,145.37 164.92,145.39 165.61,145.41 166.31,145.43 167.00,145.45 167.69,145.47 168.38,145.49 169.07,145.50 169.77,145.51 170.46,145.52 171.15,145.53 171.85,145.53 172.54,145.54 173.24,145.54 173.93,145.54 174.62,145.54 175.32,145.54 176.01,145.53 176.71,145.53 177.41,145.52 178.10,145.51 178.80,145.50 179.49,145.48 180.19,145.47 180.89,145.45 181.58,145.44 182.28,145.42 182.98,145.40 183.67,145.38 184.37,145.35 185.07,145.33 185.77,145.30 186.47,145.28 187.16,145.25 187.86,145.22 188.56,145.19 189.26,145.16 189.96,145.13 190.66,145.09 191.36,145.06 192.06,145.02 192.76,144.98 193.46,144.95 194.16,144.91 194.86,144.87 195.56,144.82 196.26,144.78 196.96,144.74 197.66,144.70 198.36,144.65 199.06,144.61 199.76,144.56 200.46,144.51 201.16,144.46 201.86,144.42 202.56,144.37 203.26,144.32 203.97,144.27 204.67,144.21 205.37,144.16 206.07,144.11 206.77,144.06 207.47,144.00 208.18,143.95 208.88,143.90 209.58,143.84 210.28,143.79 210.98,143.73 211.69,143.67 212.39,143.62 213.09,143.56 213.79,143.50 214.49,143.45 215.20,143.39 215.90,143.33 216.60,143.27 217.30,143.22 218.01,143.16 218.71,143.10 219.41,143.04 220.11,142.98 220.82,142.92 221.52,142.87 222.22,142.81 222.92,142.75 223.63,142.69 224.33,142.63 225.03,142.57 225.73,142.52 226.44,142.46 227.14,142.40 227.84,142.34 228.54,142.29 229.24,142.23 229.95,142.17 230.65,142.12 231.35,142.06 232.05,142.01 232.75,141.95 233.46,141.90 234.16,141.84 234.86,141.79 235.56,141.74 236.26,141.68 236.97,141.63 237.67,141.58 238.37,141.53 239.07,141.48 239.77,141.43 240.47,141.38 241.17,141.33 241.87,141.29 242.58,141.24 243.28,141.19 243.98,141.15 244.68,141.10 245.38,141.06 246.08,141.02 246.78,140.98 247.48,140.94 248.18,140.90 248.88,140.86 249.58,140.82 250.28,140.79 250.98,140.75 251.68,140.72 252.37,140.68 253.07,140.65 253.77,140.62 254.47,140.59 255.17,140.56 255.87,140.54 256.57,140.51 257.26,140.49 257.96,140.46 258.66,140.44 259.36,140.42 260.05,140.40 260.75,140.38 261.45,140.37 262.14,140.35 262.84,140.34 263.54,140.33 264.23,140.32 264.93,140.31 265.62,140.30 266.32,140.30 267.01,140.30 267.71,140.29 268.40,140.29 269.10,140.30 269.79,140.30 270.49,140.30 271.18,140.31 271.87,140.32 272.57,140.33 273.26,140.34 273.95,140.36 274.64,140.38 275.34,140.39 276.03,140.42 276.72,140.44 277.41,140.46 278.10,140.49 278.79,140.52" fill="none" stroke="#E0686A" stroke-width="1.7" stroke-linejoin="round"/>
<rect x="55.5" y="20.4" width="233.89999999999998" height="170.0" fill="none" stroke="#7A7A7A" stroke-width="1"/>
<line x1="66.13" y1="190.4" x2="66.13" y2="192.9" stroke="#7A7A7A" stroke-width="1"/>
<line x1="125.19" y1="190.4" x2="125.19" y2="192.9" stroke="#7A7A7A" stroke-width="1"/>
<line x1="184.26" y1="190.4" x2="184.26" y2="192.9" stroke="#7A7A7A" stroke-width="1"/>
<line x1="243.32" y1="190.4" x2="243.32" y2="192.9" stroke="#7A7A7A" stroke-width="1"/>
<line x1="53.0" y1="157.8" x2="55.5" y2="157.8" stroke="#7A7A7A" stroke-width="1"/>
<line x1="53.0" y1="115.8" x2="55.5" y2="115.8" stroke="#7A7A7A" stroke-width="1"/>
<line x1="53.0" y1="73.8" x2="55.5" y2="73.8" stroke="#7A7A7A" stroke-width="1"/>
<line x1="53.0" y1="31.8" x2="55.5" y2="31.8" stroke="#7A7A7A" stroke-width="1"/>
<text x="66.13" y="197.6" font-size="6.4" class="tk" text-anchor="middle" dominant-baseline="central">0</text>
<text x="125.19" y="197.6" font-size="6.4" class="tk" text-anchor="middle" dominant-baseline="central">25</text>
<text x="184.26" y="197.6" font-size="6.4" class="tk" text-anchor="middle" dominant-baseline="central">50</text>
<text x="243.32" y="197.6" font-size="6.4" class="tk" text-anchor="middle" dominant-baseline="central">75</text>
<text x="51.6" y="157.8" font-size="6.4" class="tk" text-anchor="end" dominant-baseline="central">250</text>
<text x="51.6" y="115.8" font-size="6.4" class="tk" text-anchor="end" dominant-baseline="central">500</text>
<text x="51.6" y="73.8" font-size="6.4" class="tk" text-anchor="end" dominant-baseline="central">750</text>
<text x="51.6" y="31.8" font-size="6.4" class="tk" text-anchor="end" dominant-baseline="central">1000</text>
<text x="172.5" y="207.4" font-size="8.6" class="ti" text-anchor="middle" dominant-baseline="central">Days</text>
<text transform="translate(26.1,105.6) rotate(-90)" font-size="8.75" class="ti" text-anchor="middle">Platelet fluorescence count (10<tspan font-size="5.775" dx="0.4" dy="-3.8">9</tspan><tspan dx="0.6" dy="3.8">/L)</tspan></text>
<text x="301.4" y="92.2" font-size="8.6" class="ti" dominant-baseline="central">Sepsis</text>
<rect x="302.5" y="98.7" width="10.4" height="10.4" fill="#F8766D" fill-opacity="0.2" stroke="#E07676" stroke-width="0.8" stroke-opacity="0.8"/>
<line x1="302.5" y1="103.9" x2="312.9" y2="103.9" stroke="#E07676" stroke-width="1.6"/>
<text x="315.2" y="103.9" font-size="6.88" class="ti" dominant-baseline="central">Yes</text>
<rect x="302.5" y="110.9" width="10.4" height="10.4" fill="#00CDD2" fill-opacity="0.2" stroke="#2A9E9F" stroke-width="0.8" stroke-opacity="0.8"/>
<line x1="302.5" y1="116.10000000000001" x2="312.9" y2="116.10000000000001" stroke="#2A9E9F" stroke-width="1.6"/>
<text x="315.2" y="116.10000000000001" font-size="6.88" class="ti" dominant-baseline="central">No</text>
<text x="3.6" y="12.8" font-size="10.5" class="pl">A</text>
<rect x="398.6" y="18.7" width="233.89999999999998" height="169.8" fill="#fff"/>
<line x1="438.76" y1="18.7" x2="438.76" y2="188.5" stroke="#F6F6F6" stroke-width="0.7"/>
<line x1="497.83" y1="18.7" x2="497.83" y2="188.5" stroke="#F6F6F6" stroke-width="0.7"/>
<line x1="556.89" y1="18.7" x2="556.89" y2="188.5" stroke="#F6F6F6" stroke-width="0.7"/>
<line x1="615.96" y1="18.7" x2="615.96" y2="188.5" stroke="#F6F6F6" stroke-width="0.7"/>
<line x1="398.6" y1="177.2" x2="632.5" y2="177.2" stroke="#F6F6F6" stroke-width="0.7"/>
<line x1="398.6" y1="133.6" x2="632.5" y2="133.6" stroke="#F6F6F6" stroke-width="0.7"/>
<line x1="398.6" y1="90.0" x2="632.5" y2="90.0" stroke="#F6F6F6" stroke-width="0.7"/>
<line x1="398.6" y1="46.4" x2="632.5" y2="46.4" stroke="#F6F6F6" stroke-width="0.7"/>
<line x1="409.23" y1="18.7" x2="409.23" y2="188.5" stroke="#F0F0F0" stroke-width="1"/>
<line x1="468.3" y1="18.7" x2="468.3" y2="188.5" stroke="#F0F0F0" stroke-width="1"/>
<line x1="527.36" y1="18.7" x2="527.36" y2="188.5" stroke="#F0F0F0" stroke-width="1"/>
<line x1="586.42" y1="18.7" x2="586.42" y2="188.5" stroke="#F0F0F0" stroke-width="1"/>
<line x1="398.6" y1="155.4" x2="632.5" y2="155.4" stroke="#F0F0F0" stroke-width="1"/>
<line x1="398.6" y1="111.8" x2="632.5" y2="111.8" stroke="#F0F0F0" stroke-width="1"/>
<line x1="398.6" y1="68.2" x2="632.5" y2="68.2" stroke="#F0F0F0" stroke-width="1"/>
<line x1="398.6" y1="24.6" x2="632.5" y2="24.6" stroke="#F0F0F0" stroke-width="1"/>
<polygon points="409.31,125.50 409.37,126.20 409.44,126.90 409.52,127.60 409.61,128.30 409.71,128.99 409.81,129.68 409.93,130.37 410.05,131.05 410.18,131.73 410.31,132.41 410.46,133.09 410.62,133.76 410.78,134.43 410.95,135.09 411.13,135.75 411.32,136.41 411.52,137.06 411.73,137.71 411.95,138.35 412.17,138.99 412.41,139.63 412.65,140.27 412.90,140.92 413.16,141.58 413.43,142.27 413.71,142.98 414.00,143.72 414.30,144.49 414.60,145.31 414.92,146.17 415.25,147.03 415.58,147.86 415.93,148.61 416.28,149.26 416.64,149.76 417.02,150.09 417.40,150.25 417.78,150.26 418.17,150.13 418.56,149.89 418.96,149.54 419.35,149.11 419.74,148.62 420.12,148.08 420.49,147.51 420.86,146.92 421.21,146.33 421.56,145.73 421.89,145.13 422.22,144.53 422.53,143.92 422.84,143.31 423.14,142.69 423.43,142.07 423.71,141.44 423.98,140.81 424.25,140.17 424.50,139.54 424.75,138.90 424.99,138.25 425.22,137.60 425.45,136.95 425.66,136.30 425.87,135.64 426.08,134.98 426.28,134.31 426.47,133.64 426.65,132.97 426.83,132.30 427.00,131.63 427.17,130.95 427.33,130.27 427.48,129.59 427.64,128.90 427.78,128.22 427.92,127.53 428.06,126.84 428.19,126.14 428.32,125.45 428.44,124.75 428.56,124.06 428.67,123.36 428.79,122.66 428.89,121.96 429.00,121.25 429.10,120.55 429.20,119.85 429.30,119.14 429.39,118.44 429.48,117.73 429.57,117.02 429.66,116.32 429.75,115.61 429.83,114.90 429.92,114.19 430.00,113.48 430.08,112.77 430.16,112.07 430.24,111.36 430.32,110.65 430.40,109.94 430.48,109.24 430.56,108.53 430.64,107.83 430.72,107.12 430.80,106.42 430.88,105.71 430.96,105.01 431.04,104.31 431.13,103.61 431.21,102.91 431.30,102.22 431.39,101.52 431.47,100.82 431.56,100.13 431.65,99.43 431.74,98.74 431.83,98.05 431.92,97.36 432.01,96.67 432.11,95.97 432.20,95.28 432.29,94.60 432.39,93.91 432.48,93.22 432.58,92.53 432.67,91.84 432.77,91.16 432.87,90.47 432.96,89.78 433.06,89.10 433.16,88.41 433.26,87.73 433.36,87.05 433.46,86.36 433.56,85.68 433.66,84.99 433.76,84.31 433.86,83.63 433.96,82.94 434.06,82.26 434.17,81.58 434.27,80.89 434.37,80.21 434.47,79.53 434.57,78.85 434.68,78.16 434.78,77.48 434.88,76.80 434.99,76.11 435.09,75.43 435.19,74.75 435.30,74.06 435.40,73.38 435.50,72.69 435.61,72.01 435.71,71.32 435.81,70.64 435.91,69.95 436.02,69.26 436.12,68.58 436.22,67.89 436.33,67.20 436.43,66.51 436.53,65.82 436.63,65.13 436.73,64.44 436.83,63.75 436.93,63.06 437.04,62.37 437.14,61.68 437.24,60.98 437.34,60.29 437.43,59.59 437.53,58.90 437.63,58.20 437.73,57.50 437.83,56.80 437.92,56.10 438.02,55.40 438.12,54.70 438.21,54.00 438.31,53.29 438.40,52.59 438.50,51.88 438.59,51.17 438.68,50.46 438.77,49.75 438.86,49.04 438.95,48.33 439.04,47.62 439.13,46.90 439.22,46.18 439.31,45.47 439.39,44.75 439.48,44.03 439.57,43.30 439.66,42.58 439.75,41.86 439.84,41.15 439.94,40.43 440.05,39.72 440.16,39.00 440.28,38.30 440.40,37.59 440.54,36.89 440.68,36.20 440.83,35.51 441.00,34.83 441.18,34.16 441.37,33.49 441.57,32.83 441.79,32.18 442.02,31.54 442.27,30.91 442.54,30.28 442.83,29.67 443.13,29.07 443.46,28.49 443.80,27.94 444.16,27.47 444.52,27.11 444.90,26.92 445.27,26.91 445.65,27.07 446.02,27.35 446.39,27.68 446.74,28.07 447.09,28.50 447.42,28.96 447.75,29.47 448.07,30.00 448.38,30.57 448.69,31.17 448.98,31.79 449.27,32.44 449.56,33.11 449.83,33.80 450.10,34.50 450.36,35.21 450.62,35.94 450.87,36.67 451.12,37.40 451.36,38.14 451.59,38.88 451.82,39.61 452.04,40.34 452.26,41.07 452.48,41.79 452.70,42.51 452.91,43.23 453.11,43.95 453.32,44.66 453.52,45.37 453.72,46.08 453.92,46.78 454.12,47.48 454.32,48.18 454.51,48.87 454.71,49.56 454.91,50.25 455.10,50.94 455.30,51.62 455.50,52.30 455.71,52.97 455.91,53.65 456.11,54.32 456.32,54.98 456.53,55.65 456.75,56.31 456.97,56.96 457.19,57.62 457.42,58.27 457.65,58.92 457.89,59.56 458.13,60.20 458.38,60.84 458.63,61.48 458.89,62.11 459.16,62.74 459.43,63.36 459.71,63.99 460.00,64.61 460.29,65.22 460.59,65.83 460.90,66.44 461.21,67.05 461.53,67.65 461.85,68.26 462.18,68.85 462.52,69.45 462.86,70.04 463.21,70.63 463.56,71.21 463.92,71.79 464.28,72.37 464.65,72.95 465.03,73.52 465.41,74.09 465.80,74.66 466.19,75.22 466.59,75.78 466.99,76.34 467.39,76.90 467.81,77.45 468.22,78.00 468.65,78.54 469.07,79.08 469.50,79.62 469.94,80.16 470.38,80.70 470.82,81.23 471.27,81.75 471.73,82.28 472.19,82.80 472.65,83.32 473.11,83.84 473.58,84.35 474.06,84.86 474.54,85.37 475.02,85.88 475.51,86.38 476.00,86.88 476.49,87.37 476.99,87.87 477.49,88.36 477.99,88.85 478.50,89.33 479.01,89.81 479.52,90.29 480.04,90.77 480.56,91.24 481.08,91.71 481.61,92.18 482.14,92.65 482.67,93.11 483.21,93.57 483.75,94.03 484.29,94.48 484.83,94.93 485.37,95.38 485.92,95.83 486.47,96.27 487.02,96.72 487.58,97.15 488.14,97.59 488.69,98.02 489.26,98.45 489.82,98.88 490.38,99.31 490.95,99.73 491.52,100.15 492.09,100.56 492.66,100.98 493.24,101.39 493.81,101.80 494.39,102.20 494.97,102.61 495.55,103.01 496.14,103.40 496.72,103.80 497.31,104.19 497.90,104.58 498.49,104.96 499.08,105.34 499.67,105.72 500.27,106.10 500.87,106.47 501.47,106.84 502.07,107.20 502.67,107.57 503.27,107.93 503.88,108.28 504.49,108.64 505.10,108.99 505.71,109.33 506.32,109.68 506.93,110.02 507.55,110.35 508.17,110.69 508.78,111.01 509.40,111.34 510.03,111.66 510.65,111.98 511.27,112.30 511.90,112.61 512.53,112.92 513.16,113.22 513.79,113.52 514.42,113.82 515.05,114.11 515.69,114.40 516.32,114.69 516.96,114.97 517.60,115.25 518.24,115.53 518.88,115.80 519.52,116.06 520.16,116.33 520.81,116.59 521.46,116.84 522.10,117.09 522.75,117.34 523.40,117.58 524.05,117.82 524.70,118.06 525.36,118.29 526.01,118.52 526.67,118.75 527.33,118.97 527.98,119.19 528.64,119.40 529.30,119.61 529.96,119.82 530.63,120.02 531.29,120.22 531.96,120.42 532.62,120.61 533.29,120.80 533.96,120.99 534.62,121.18 535.29,121.36 535.96,121.53 536.64,121.71 537.31,121.88 537.98,122.05 538.66,122.21 539.33,122.38 540.01,122.54 540.68,122.69 541.36,122.85 542.04,123.00 542.72,123.14 543.40,123.29 544.08,123.43 544.76,123.57 545.45,123.71 546.13,123.84 546.81,123.98 547.50,124.10 548.18,124.23 548.87,124.36 549.56,124.48 550.24,124.60 550.93,124.71 551.62,124.83 552.31,124.94 553.00,125.05 553.69,125.16 554.38,125.26 555.08,125.37 555.77,125.47 556.46,125.57 557.16,125.66 557.85,125.76 558.54,125.85 559.24,125.94 559.94,126.03 560.63,126.12 561.33,126.20 562.03,126.28 562.72,126.37 563.42,126.45 564.12,126.52 564.82,126.60 565.52,126.67 566.22,126.75 566.92,126.82 567.62,126.89 568.32,126.96 569.02,127.02 569.72,127.09 570.42,127.15 571.12,127.21 571.83,127.27 572.53,127.33 573.23,127.39 573.93,127.45 574.64,127.50 575.34,127.56 576.04,127.61 576.75,127.66 577.45,127.72 578.16,127.77 578.86,127.81 579.56,127.86 580.27,127.91 580.97,127.96 581.68,128.00 582.38,128.05 583.08,128.09 583.79,128.13 584.49,128.17 585.20,128.22 585.90,128.26 586.61,128.30 587.31,128.34 588.02,128.38 588.72,128.41 589.43,128.45 590.13,128.49 590.83,128.53 591.54,128.56 592.24,128.60 592.95,128.63 593.65,128.67 594.35,128.71 595.06,128.74 595.76,128.78 596.46,128.81 597.16,128.84 597.87,128.88 598.57,128.91 599.27,128.95 599.97,128.98 600.67,129.02 601.37,129.05 602.07,129.09 602.78,129.12 603.48,129.16 604.17,129.19 604.87,129.23 605.57,129.26 606.27,129.30 606.97,129.34 607.67,129.37 608.36,129.41 609.06,129.45 609.76,129.49 610.45,129.52 611.15,129.56 611.84,129.60 612.54,129.64 613.23,129.69 613.93,129.73 614.62,129.77 615.31,129.81 616.00,129.86 616.69,129.90 617.38,129.95 618.07,130.00 618.76,130.04 619.45,130.09 620.14,130.14 620.82,130.19 621.51,130.25 622.20,130.30 622.21,162.21 621.49,162.11 620.78,162.02 620.07,161.92 619.36,161.83 618.65,161.74 617.94,161.65 617.23,161.56 616.53,161.47 615.82,161.39 615.11,161.30 614.41,161.22 613.70,161.13 612.99,161.05 612.29,160.97 611.59,160.89 610.88,160.81 610.18,160.73 609.48,160.66 608.78,160.58 608.08,160.51 607.38,160.43 606.68,160.36 605.98,160.29 605.28,160.22 604.58,160.15 603.88,160.08 603.18,160.01 602.49,159.94 601.79,159.88 601.09,159.81 600.40,159.75 599.70,159.69 599.01,159.62 598.31,159.56 597.62,159.50 596.92,159.44 596.23,159.38 595.54,159.32 594.85,159.26 594.15,159.21 593.46,159.15 592.77,159.10 592.08,159.04 591.39,158.99 590.69,158.93 590.00,158.88 589.31,158.83 588.62,158.78 587.93,158.73 587.24,158.68 586.55,158.63 585.86,158.58 585.17,158.53 584.48,158.48 583.80,158.44 583.11,158.39 582.42,158.34 581.73,158.30 581.04,158.25 580.35,158.21 579.66,158.16 578.98,158.12 578.29,158.08 577.60,158.03 576.91,157.99 576.23,157.95 575.54,157.91 574.85,157.87 574.16,157.83 573.47,157.79 572.79,157.75 572.10,157.71 571.41,157.67 570.72,157.63 570.04,157.59 569.35,157.55 568.66,157.52 567.97,157.48 567.29,157.44 566.60,157.40 565.91,157.37 565.22,157.33 564.53,157.29 563.84,157.26 563.16,157.22 562.47,157.19 561.78,157.15 561.09,157.11 560.40,157.08 559.71,157.04 559.02,157.01 558.33,156.97 557.64,156.94 556.95,156.90 556.26,156.87 555.57,156.83 554.88,156.80 554.19,156.76 553.50,156.73 552.81,156.69 552.11,156.66 551.42,156.62 550.73,156.59 550.04,156.55 549.34,156.52 548.65,156.48 547.96,156.45 547.26,156.41 546.57,156.37 545.87,156.34 545.18,156.30 544.48,156.27 543.78,156.23 543.09,156.19 542.39,156.16 541.69,156.12 540.99,156.08 540.30,156.05 539.60,156.01 538.90,155.97 538.20,155.93 537.50,155.89 536.80,155.85 536.09,155.81 535.39,155.77 534.69,155.74 533.99,155.69 533.28,155.65 532.58,155.61 531.87,155.57 531.17,155.53 530.46,155.49 529.76,155.44 529.05,155.40 528.34,155.36 527.63,155.31 526.92,155.27 526.21,155.22 525.50,155.18 524.79,155.13 524.08,155.09 523.37,155.04 522.65,154.99 521.94,154.94 521.22,154.89 520.51,154.84 519.79,154.79 519.08,154.74 518.36,154.69 517.64,154.64 516.92,154.58 516.20,154.53 515.49,154.47 514.77,154.41 514.05,154.35 513.33,154.29 512.61,154.22 511.90,154.16 511.18,154.09 510.46,154.01 509.75,153.94 509.03,153.86 508.32,153.78 507.61,153.70 506.90,153.62 506.19,153.53 505.48,153.43 504.77,153.34 504.06,153.24 503.36,153.14 502.66,153.03 501.96,152.92 501.26,152.80 500.56,152.68 499.86,152.56 499.17,152.43 498.48,152.30 497.79,152.16 497.11,152.02 496.43,151.87 495.75,151.71 495.07,151.56 494.39,151.39 493.72,151.22 493.05,151.05 492.39,150.86 491.73,150.68 491.07,150.48 490.41,150.28 489.76,150.08 489.11,149.86 488.47,149.64 487.83,149.42 487.19,149.18 486.56,148.94 485.94,148.69 485.31,148.44 484.69,148.18 484.08,147.90 483.47,147.63 482.86,147.34 482.26,147.05 481.67,146.74 481.08,146.43 480.49,146.11 479.91,145.79 479.34,145.45 478.77,145.11 478.20,144.75 477.65,144.39 477.09,144.02 476.55,143.63 476.01,143.24 475.47,142.84 474.94,142.43 474.42,142.01 473.90,141.58 473.39,141.14 472.89,140.69 472.39,140.23 471.90,139.75 471.42,139.27 470.94,138.78 470.47,138.27 470.01,137.76 469.55,137.24 469.10,136.70 468.66,136.16 468.22,135.61 467.79,135.05 467.36,134.49 466.95,133.91 466.53,133.33 466.12,132.74 465.72,132.15 465.33,131.54 464.94,130.94 464.55,130.32 464.17,129.70 463.80,129.08 463.43,128.45 463.06,127.82 462.70,127.18 462.35,126.54 462.00,125.90 461.66,125.25 461.32,124.60 460.98,123.95 460.65,123.29 460.32,122.64 460.00,121.98 459.68,121.32 459.37,120.67 459.06,120.01 458.75,119.35 458.45,118.69 458.15,118.03 457.85,117.38 457.56,116.72 457.27,116.07 456.97,115.42 456.67,114.78 456.37,114.14 456.07,113.51 455.76,112.88 455.44,112.26 455.11,111.65 454.77,111.05 454.43,110.46 454.06,109.88 453.69,109.32 453.30,108.76 452.90,108.22 452.48,107.69 452.03,107.18 451.57,106.68 451.09,106.20 450.59,105.75 450.08,105.33 449.57,104.97 449.04,104.67 448.52,104.44 448.00,104.29 447.49,104.23 446.99,104.28 446.50,104.42 446.03,104.65 445.56,104.96 445.11,105.33 444.67,105.76 444.24,106.23 443.83,106.74 443.42,107.28 443.03,107.85 442.65,108.44 442.28,109.05 441.92,109.69 441.57,110.34 441.23,111.01 440.91,111.69 440.59,112.39 440.29,113.10 439.99,113.81 439.71,114.54 439.44,115.27 439.18,116.00 438.92,116.74 438.68,117.48 438.45,118.21 438.23,118.94 438.02,119.66 437.82,120.38 437.62,121.09 437.44,121.79 437.27,122.48 437.10,123.16 436.94,123.84 436.79,124.52 436.65,125.18 436.51,125.85 436.38,126.50 436.26,127.16 436.14,127.81 436.03,128.45 435.92,129.10 435.81,129.74 435.71,130.38 435.62,131.02 435.52,131.65 435.43,132.29 435.35,132.93 435.26,133.56 435.17,134.20 435.09,134.84 435.01,135.48 434.93,136.12 434.84,136.77 434.76,137.42 434.68,138.07 434.59,138.72 434.51,139.38 434.42,140.05 434.33,140.72 434.24,141.40 434.14,142.08 434.04,142.77 433.94,143.46 433.83,144.17 433.72,144.88 433.60,145.60 433.47,146.33 433.34,147.06 433.21,147.80 433.07,148.55 432.92,149.30 432.76,150.05 432.59,150.80 432.42,151.55 432.24,152.30 432.05,153.05 431.85,153.79 431.64,154.53 431.42,155.27 431.19,156.00 430.95,156.72 430.70,157.44 430.44,158.14 430.16,158.83 429.88,159.52 429.58,160.18 429.27,160.84 428.94,161.48 428.60,162.11 428.25,162.71 427.88,163.30 427.50,163.87 427.10,164.43 426.69,164.95 426.26,165.46 425.82,165.95 425.35,166.40 424.88,166.84 424.38,167.25 423.87,167.63 423.33,167.98 422.78,168.30 422.22,168.59 421.63,168.85 421.02,169.07 420.39,169.26 419.75,169.42 419.09,169.54 418.43,169.62 417.76,169.67 417.08,169.67 416.41,169.64 415.74,169.56 415.08,169.44 414.43,169.28 413.79,169.07 413.18,168.82 412.58,168.52 412.01,168.17 411.46,167.78 410.95,167.33 410.48,166.83 410.04,166.28 409.64,165.68 409.29,165.02" fill="#00CDD2" fill-opacity="0.19" stroke="#2A9E9F" stroke-width="1.05" stroke-linejoin="round"/>
<polygon points="409.30,135.00 409.33,135.70 409.38,136.41 409.43,137.11 409.49,137.80 409.56,138.50 409.63,139.19 409.72,139.88 409.81,140.57 409.91,141.26 410.01,141.95 410.12,142.64 410.24,143.32 410.36,144.01 410.48,144.69 410.61,145.37 410.74,146.05 410.87,146.73 411.00,147.42 411.14,148.10 411.28,148.78 411.42,149.46 411.56,150.14 411.69,150.82 411.83,151.50 411.97,152.18 412.10,152.86 412.24,153.54 412.37,154.23 412.51,154.91 412.64,155.60 412.78,156.29 412.92,156.97 413.07,157.66 413.22,158.35 413.37,159.05 413.53,159.74 413.69,160.44 413.85,161.14 414.03,161.84 414.21,162.54 414.40,163.25 414.60,163.96 414.80,164.67 415.02,165.38 415.24,166.10 415.48,166.82 415.72,167.54 415.98,168.26 416.25,168.96 416.54,169.66 416.84,170.32 417.16,170.96 417.49,171.57 417.85,172.13 418.22,172.64 418.61,173.10 419.03,173.50 419.47,173.83 419.94,174.09 420.43,174.27 420.94,174.36 421.48,174.36 422.04,174.28 422.61,174.12 423.19,173.91 423.76,173.63 424.32,173.31 424.87,172.95 425.39,172.56 425.88,172.15 426.34,171.71 426.77,171.25 427.18,170.78 427.57,170.28 427.94,169.76 428.29,169.22 428.63,168.67 428.95,168.10 429.25,167.51 429.55,166.91 429.84,166.29 430.12,165.66 430.39,165.02 430.66,164.36 430.93,163.70 431.19,163.02 431.45,162.34 431.71,161.64 431.96,160.94 432.21,160.23 432.45,159.52 432.69,158.80 432.93,158.07 433.16,157.34 433.39,156.61 433.61,155.88 433.83,155.14 434.04,154.41 434.25,153.67 434.45,152.94 434.65,152.21 434.84,151.48 435.03,150.76 435.21,150.04 435.39,149.32 435.56,148.61 435.73,147.91 435.89,147.22 436.04,146.53 436.19,145.86 436.34,145.19 436.48,144.53 436.61,143.88 436.74,143.24 436.87,142.60 436.99,141.97 437.11,141.34 437.23,140.72 437.35,140.09 437.46,139.47 437.57,138.85 437.68,138.23 437.79,137.61 437.90,136.99 438.01,136.36 438.12,135.73 438.23,135.09 438.34,134.45 438.45,133.80 438.56,133.15 438.68,132.49 438.80,131.81 438.92,131.13 439.05,130.44 439.18,129.73 439.31,129.02 439.45,128.29 439.60,127.56 439.74,126.81 439.90,126.06 440.06,125.31 440.23,124.55 440.40,123.80 440.59,123.04 440.78,122.28 440.97,121.53 441.18,120.79 441.40,120.05 441.62,119.31 441.86,118.59 442.10,117.88 442.36,117.18 442.62,116.50 442.90,115.84 443.19,115.19 443.49,114.56 443.80,113.95 444.14,113.38 444.48,112.85 444.85,112.36 445.24,111.92 445.65,111.54 446.09,111.22 446.56,110.97 447.05,110.79 447.57,110.68 448.10,110.65 448.65,110.70 449.20,110.81 449.74,111.00 450.28,111.25 450.82,111.56 451.35,111.93 451.88,112.34 452.40,112.79 452.93,113.27 453.46,113.78 453.98,114.31 454.52,114.86 455.05,115.40 455.60,115.95 456.14,116.49 456.70,117.01 457.27,117.52 457.84,118.00 458.42,118.47 459.01,118.93 459.60,119.36 460.21,119.79 460.81,120.19 461.43,120.58 462.05,120.96 462.67,121.33 463.30,121.68 463.94,122.02 464.57,122.35 465.22,122.67 465.86,122.97 466.51,123.27 467.16,123.56 467.81,123.84 468.47,124.11 469.13,124.37 469.78,124.63 470.44,124.88 471.10,125.12 471.76,125.36 472.42,125.59 473.08,125.81 473.74,126.03 474.41,126.24 475.07,126.45 475.74,126.65 476.40,126.85 477.07,127.03 477.73,127.22 478.40,127.40 479.07,127.57 479.74,127.73 480.40,127.90 481.07,128.05 481.74,128.20 482.42,128.35 483.09,128.49 483.76,128.63 484.43,128.76 485.11,128.88 485.78,129.00 486.45,129.12 487.13,129.23 487.80,129.34 488.48,129.45 489.16,129.54 489.84,129.64 490.51,129.73 491.19,129.82 491.87,129.90 492.55,129.98 493.23,130.05 493.91,130.12 494.59,130.19 495.28,130.25 495.96,130.31 496.64,130.37 497.33,130.42 498.01,130.47 498.69,130.52 499.38,130.56 500.06,130.60 500.75,130.64 501.44,130.67 502.12,130.70 502.81,130.73 503.50,130.76 504.19,130.78 504.88,130.80 505.57,130.82 506.26,130.83 506.95,130.85 507.64,130.86 508.33,130.86 509.02,130.87 509.71,130.88 510.40,130.88 511.10,130.88 511.79,130.88 512.48,130.87 513.18,130.87 513.87,130.86 514.56,130.86 515.26,130.85 515.95,130.84 516.65,130.82 517.34,130.81 518.04,130.80 518.74,130.78 519.43,130.76 520.13,130.75 520.83,130.73 521.53,130.71 522.22,130.69 522.92,130.67 523.62,130.65 524.32,130.63 525.02,130.61 525.72,130.59 526.42,130.56 527.12,130.54 527.82,130.52 528.52,130.50 529.22,130.47 529.92,130.45 530.62,130.43 531.32,130.41 532.03,130.38 532.73,130.36 533.43,130.34 534.13,130.31 534.83,130.29 535.54,130.26 536.24,130.24 536.94,130.21 537.65,130.19 538.35,130.16 539.05,130.14 539.76,130.11 540.46,130.09 541.16,130.06 541.87,130.03 542.57,130.01 543.28,129.98 543.98,129.95 544.68,129.93 545.39,129.90 546.09,129.87 546.80,129.84 547.50,129.82 548.21,129.79 548.91,129.76 549.62,129.73 550.32,129.70 551.03,129.67 551.73,129.64 552.44,129.61 553.15,129.58 553.85,129.55 554.56,129.52 555.26,129.49 555.97,129.45 556.67,129.42 557.38,129.39 558.08,129.36 558.79,129.32 559.49,129.29 560.20,129.26 560.91,129.22 561.61,129.19 562.32,129.16 563.02,129.12 563.73,129.09 564.43,129.05 565.14,129.01 565.84,128.98 566.55,128.94 567.25,128.90 567.96,128.87 568.66,128.83 569.37,128.79 570.07,128.75 570.78,128.71 571.48,128.68 572.18,128.64 572.89,128.60 573.59,128.56 574.30,128.52 575.00,128.47 575.70,128.43 576.41,128.39 577.11,128.35 577.81,128.31 578.52,128.26 579.22,128.22 579.92,128.18 580.62,128.13 581.33,128.09 582.03,128.04 582.73,128.00 583.43,127.95 584.13,127.90 584.83,127.86 585.53,127.81 586.23,127.76 586.93,127.72 587.63,127.67 588.33,127.62 589.03,127.57 589.73,127.52 590.43,127.47 591.13,127.42 591.83,127.37 592.53,127.31 593.23,127.26 593.92,127.21 594.62,127.16 595.32,127.10 596.01,127.05 596.71,126.99 597.41,126.94 598.10,126.88 598.80,126.83 599.49,126.77 600.19,126.71 600.88,126.66 601.57,126.60 602.27,126.54 602.96,126.48 603.65,126.42 604.35,126.36 605.04,126.30 605.73,126.24 606.42,126.18 607.11,126.11 607.80,126.05 608.49,125.99 609.18,125.92 609.87,125.86 610.56,125.79 611.25,125.73 611.93,125.66 612.62,125.59 613.31,125.53 613.99,125.46 614.68,125.39 615.37,125.32 616.05,125.25 616.73,125.18 617.42,125.11 618.10,125.04 618.78,124.97 619.47,124.90 620.15,124.82 620.83,124.75 621.51,124.67 622.19,124.60 622.20,147.50 621.50,147.49 620.81,147.47 620.11,147.46 619.42,147.44 618.72,147.43 618.02,147.42 617.33,147.40 616.63,147.39 615.93,147.38 615.24,147.37 614.54,147.36 613.84,147.35 613.15,147.35 612.45,147.34 611.75,147.33 611.06,147.32 610.36,147.32 609.66,147.31 608.96,147.31 608.26,147.31 607.57,147.30 606.87,147.30 606.17,147.30 605.47,147.30 604.77,147.30 604.07,147.30 603.38,147.30 602.68,147.30 601.98,147.30 601.28,147.31 600.58,147.31 599.88,147.31 599.18,147.32 598.48,147.32 597.78,147.33 597.08,147.34 596.38,147.34 595.68,147.35 594.98,147.36 594.28,147.37 593.58,147.38 592.88,147.39 592.18,147.40 591.48,147.41 590.78,147.42 590.08,147.43 589.38,147.45 588.68,147.46 587.98,147.48 587.28,147.49 586.58,147.51 585.88,147.52 585.18,147.54 584.48,147.56 583.78,147.57 583.08,147.59 582.38,147.61 581.68,147.63 580.97,147.65 580.27,147.67 579.57,147.69 578.87,147.72 578.17,147.74 577.47,147.76 576.77,147.78 576.07,147.81 575.37,147.83 574.67,147.86 573.96,147.88 573.26,147.91 572.56,147.94 571.86,147.97 571.16,147.99 570.46,148.02 569.76,148.05 569.06,148.08 568.35,148.11 567.65,148.14 566.95,148.17 566.25,148.20 565.55,148.24 564.85,148.27 564.15,148.30 563.45,148.34 562.74,148.37 562.04,148.41 561.34,148.44 560.64,148.48 559.94,148.51 559.24,148.55 558.54,148.59 557.84,148.63 557.14,148.67 556.43,148.70 555.73,148.74 555.03,148.78 554.33,148.82 553.63,148.87 552.93,148.91 552.23,148.95 551.53,148.99 550.83,149.04 550.13,149.08 549.43,149.12 548.73,149.17 548.03,149.21 547.33,149.26 546.63,149.30 545.93,149.35 545.23,149.40 544.53,149.44 543.83,149.49 543.13,149.54 542.43,149.59 541.73,149.64 541.03,149.69 540.33,149.74 539.63,149.79 538.93,149.84 538.23,149.89 537.53,149.95 536.83,150.00 536.13,150.05 535.43,150.10 534.73,150.16 534.04,150.21 533.34,150.26 532.64,150.31 531.94,150.37 531.24,150.42 530.54,150.47 529.85,150.52 529.15,150.57 528.45,150.62 527.75,150.67 527.05,150.72 526.36,150.76 525.66,150.81 524.96,150.86 524.27,150.90 523.57,150.94 522.87,150.99 522.18,151.03 521.48,151.06 520.78,151.10 520.09,151.14 519.39,151.17 518.69,151.20 518.00,151.23 517.30,151.26 516.61,151.29 515.91,151.31 515.22,151.34 514.52,151.36 513.83,151.37 513.13,151.39 512.44,151.40 511.74,151.41 511.05,151.42 510.36,151.43 509.66,151.43 508.97,151.43 508.27,151.42 507.58,151.42 506.89,151.41 506.19,151.39 505.50,151.38 504.81,151.36 504.12,151.33 503.43,151.31 502.73,151.28 502.04,151.24 501.35,151.21 500.66,151.16 499.97,151.12 499.28,151.07 498.59,151.02 497.89,150.96 497.20,150.90 496.51,150.83 495.82,150.76 495.13,150.68 494.45,150.60 493.76,150.52 493.07,150.43 492.38,150.34 491.69,150.24 491.00,150.14 490.31,150.03 489.63,149.91 488.94,149.79 488.25,149.67 487.56,149.54 486.88,149.41 486.19,149.26 485.50,149.12 484.82,148.97 484.13,148.81 483.45,148.65 482.76,148.48 482.08,148.31 481.39,148.13 480.71,147.94 480.03,147.76 479.34,147.56 478.66,147.36 477.98,147.16 477.30,146.95 476.62,146.74 475.95,146.52 475.27,146.30 474.59,146.07 473.92,145.84 473.24,145.60 472.57,145.36 471.90,145.12 471.23,144.87 470.56,144.62 469.89,144.36 469.23,144.10 468.56,143.83 467.90,143.56 467.24,143.29 466.58,143.01 465.92,142.73 465.26,142.44 464.61,142.15 463.96,141.86 463.30,141.57 462.66,141.27 462.01,140.96 461.36,140.66 460.72,140.35 460.08,140.03 459.44,139.72 458.80,139.40 458.17,139.08 457.53,138.75 456.90,138.42 456.28,138.09 455.65,137.76 455.03,137.42 454.41,137.09 453.79,136.76 453.18,136.45 452.57,136.16 451.97,135.91 451.38,135.71 450.80,135.56 450.22,135.48 449.66,135.47 449.11,135.54 448.57,135.70 448.04,135.94 447.53,136.25 447.04,136.61 446.56,137.02 446.10,137.47 445.65,137.95 445.23,138.44 444.82,138.95 444.44,139.47 444.07,140.01 443.72,140.56 443.38,141.12 443.06,141.70 442.75,142.29 442.46,142.89 442.18,143.50 441.91,144.13 441.66,144.76 441.41,145.41 441.18,146.06 440.96,146.72 440.74,147.39 440.54,148.07 440.34,148.75 440.15,149.44 439.97,150.14 439.79,150.84 439.62,151.55 439.45,152.26 439.29,152.97 439.13,153.69 438.97,154.41 438.82,155.13 438.66,155.85 438.51,156.58 438.36,157.30 438.20,158.03 438.05,158.75 437.89,159.48 437.73,160.20 437.57,160.92 437.40,161.63 437.23,162.34 437.05,163.05 436.87,163.76 436.68,164.46 436.48,165.15 436.28,165.84 436.07,166.52 435.84,167.19 435.61,167.86 435.37,168.52 435.11,169.17 434.84,169.81 434.56,170.44 434.27,171.06 433.96,171.66 433.64,172.26 433.30,172.85 432.95,173.42 432.58,173.98 432.19,174.52 431.79,175.05 431.36,175.57 430.92,176.07 430.46,176.55 429.97,177.02 429.47,177.47 428.94,177.91 428.39,178.32 427.82,178.72 427.22,179.10 426.60,179.45 425.97,179.79 425.32,180.09 424.66,180.36 423.99,180.60 423.32,180.80 422.64,180.96 421.97,181.08 421.30,181.16 420.64,181.19 419.99,181.16 419.35,181.09 418.73,180.95 418.13,180.76 417.56,180.50 417.01,180.19 416.48,179.82 415.97,179.40 415.48,178.94 415.02,178.43 414.58,177.88 414.16,177.29 413.75,176.67 413.37,176.02 413.01,175.35 412.66,174.65 412.34,173.94 412.03,173.21 411.74,172.47 411.47,171.72 411.21,170.97 410.98,170.22 410.75,169.47 410.55,168.73 410.35,168.00 410.18,167.29 410.01,166.59 409.86,165.92 409.73,165.27 409.60,164.65 409.49,164.07 409.40,163.52 409.31,163.01" fill="#F8766D" fill-opacity="0.2" stroke="#E07676" stroke-width="1.05" stroke-linejoin="round"/>
<polyline points="409.31,152.20 409.31,152.81 409.38,153.45 409.53,154.13 409.75,154.83 410.03,155.54 410.37,156.25 410.76,156.95 411.20,157.63 411.69,158.28 412.22,158.89 412.78,159.45 413.37,159.96 413.98,160.39 414.62,160.74 415.27,161.00 415.92,161.18 416.58,161.27 417.24,161.28 417.90,161.22 418.54,161.10 419.17,160.93 419.78,160.71 420.36,160.44 420.91,160.14 421.43,159.81 421.93,159.45 422.39,159.06 422.83,158.63 423.25,158.18 423.64,157.71 424.00,157.21 424.35,156.68 424.67,156.13 424.97,155.56 425.25,154.97 425.52,154.36 425.77,153.74 426.00,153.10 426.22,152.44 426.42,151.77 426.61,151.08 426.79,150.39 426.96,149.68 427.12,148.97 427.27,148.24 427.42,147.52 427.56,146.78 427.69,146.05 427.82,145.31 427.94,144.56 428.07,143.82 428.19,143.08 428.31,142.35 428.44,141.61 428.56,140.88 428.69,140.16 428.82,139.43 428.95,138.72 429.08,138.00 429.22,137.29 429.35,136.58 429.49,135.88 429.62,135.18 429.76,134.48 429.90,133.79 430.04,133.10 430.18,132.41 430.32,131.72 430.46,131.03 430.60,130.35 430.74,129.67 430.88,128.99 431.02,128.31 431.16,127.64 431.30,126.96 431.44,126.29 431.58,125.62 431.72,124.95 431.86,124.28 432.00,123.61 432.14,122.94 432.27,122.28 432.41,121.61 432.54,120.94 432.68,120.28 432.81,119.61 432.94,118.94 433.07,118.28 433.20,117.61 433.32,116.94 433.45,116.27 433.57,115.60 433.69,114.93 433.81,114.26 433.93,113.59 434.04,112.92 434.16,112.24 434.27,111.56 434.38,110.88 434.48,110.20 434.58,109.52 434.68,108.83 434.78,108.15 434.88,107.46 434.97,106.77 435.06,106.07 435.14,105.37 435.23,104.68 435.31,103.98 435.40,103.28 435.48,102.57 435.56,101.87 435.65,101.17 435.73,100.46 435.81,99.76 435.90,99.05 435.98,98.35 436.07,97.65 436.16,96.94 436.26,96.24 436.35,95.54 436.45,94.84 436.55,94.14 436.66,93.44 436.77,92.74 436.89,92.05 437.01,91.35 437.13,90.66 437.27,89.98 437.40,89.29 437.55,88.61 437.70,87.93 437.86,87.25 438.02,86.57 438.19,85.88 438.37,85.20 438.56,84.52 438.76,83.83 438.97,83.13 439.18,82.44 439.41,81.73 439.65,81.02 439.90,80.31 440.15,79.59 440.42,78.85 440.70,78.12 441.00,77.38 441.30,76.66 441.62,75.97 441.95,75.31 442.29,74.70 442.65,74.14 443.02,73.65 443.41,73.23 443.81,72.91 444.22,72.66 444.65,72.49 445.10,72.39 445.56,72.37 446.04,72.41 446.53,72.52 447.04,72.69 447.56,72.91 448.09,73.19 448.62,73.52 449.15,73.89 449.66,74.31 450.16,74.77 450.64,75.27 451.08,75.80 451.50,76.37 451.90,76.96 452.27,77.58 452.62,78.22 452.96,78.88 453.28,79.55 453.59,80.24 453.88,80.94 454.17,81.65 454.46,82.36 454.74,83.07 455.02,83.77 455.29,84.48 455.57,85.18 455.85,85.87 456.13,86.56 456.40,87.25 456.68,87.93 456.96,88.61 457.24,89.28 457.52,89.95 457.81,90.62 458.09,91.28 458.38,91.94 458.66,92.59 458.95,93.24 459.24,93.89 459.53,94.53 459.83,95.17 460.13,95.81 460.43,96.44 460.73,97.07 461.03,97.69 461.34,98.31 461.65,98.92 461.97,99.54 462.28,100.14 462.61,100.75 462.93,101.35 463.26,101.95 463.59,102.54 463.93,103.13 464.27,103.72 464.62,104.30 464.97,104.88 465.33,105.46 465.69,106.03 466.05,106.60 466.43,107.16 466.80,107.72 467.19,108.28 467.57,108.83 467.97,109.39 468.37,109.93 468.78,110.48 469.19,111.02 469.61,111.56 470.03,112.09 470.47,112.62 470.91,113.15 471.35,113.67 471.81,114.20 472.27,114.71 472.74,115.23 473.21,115.74 473.70,116.24 474.19,116.74 474.68,117.24 475.18,117.73 475.69,118.22 476.21,118.70 476.73,119.18 477.25,119.65 477.79,120.11 478.33,120.57 478.87,121.03 479.42,121.47 479.97,121.91 480.53,122.34 481.10,122.77 481.67,123.19 482.25,123.60 482.83,124.00 483.41,124.40 484.00,124.79 484.59,125.16 485.19,125.54 485.79,125.90 486.40,126.25 487.01,126.60 487.63,126.93 488.24,127.26 488.87,127.58 489.49,127.89 490.12,128.20 490.75,128.50 491.39,128.79 492.03,129.08 492.67,129.36 493.31,129.63 493.96,129.89 494.61,130.15 495.26,130.41 495.92,130.66 496.57,130.90 497.23,131.14 497.89,131.37 498.55,131.60 499.22,131.83 499.89,132.05 500.55,132.26 501.22,132.47 501.89,132.68 502.56,132.89 503.24,133.09 503.91,133.29 504.59,133.48 505.26,133.67 505.94,133.86 506.61,134.05 507.29,134.24 507.97,134.42 508.64,134.60 509.32,134.78 510.00,134.96 510.68,135.14 511.36,135.31 512.04,135.48 512.72,135.65 513.40,135.82 514.08,135.99 514.76,136.15 515.44,136.32 516.12,136.48 516.80,136.64 517.48,136.80 518.16,136.95 518.84,137.11 519.52,137.26 520.21,137.41 520.89,137.56 521.57,137.71 522.25,137.85 522.94,138.00 523.62,138.14 524.31,138.28 524.99,138.42 525.67,138.56 526.36,138.69 527.04,138.83 527.73,138.96 528.41,139.09 529.10,139.22 529.79,139.35 530.47,139.48 531.16,139.61 531.84,139.73 532.53,139.85 533.22,139.97 533.90,140.09 534.59,140.21 535.28,140.33 535.97,140.45 536.66,140.56 537.34,140.67 538.03,140.78 538.72,140.89 539.41,141.00 540.10,141.11 540.79,141.22 541.48,141.32 542.17,141.43 542.86,141.53 543.55,141.63 544.24,141.73 544.93,141.83 545.62,141.93 546.31,142.03 547.00,142.12 547.69,142.22 548.38,142.31 549.07,142.40 549.77,142.49 550.46,142.58 551.15,142.67 551.84,142.76 552.53,142.85 553.23,142.94 553.92,143.02 554.61,143.10 555.31,143.19 556.00,143.27 556.69,143.35 557.39,143.43 558.08,143.51 558.77,143.59 559.47,143.67 560.16,143.74 560.85,143.82 561.55,143.89 562.24,143.97 562.94,144.04 563.63,144.11 564.33,144.19 565.02,144.26 565.72,144.33 566.41,144.40 567.11,144.47 567.80,144.53 568.50,144.60 569.19,144.67 569.89,144.73 570.59,144.80 571.28,144.86 571.98,144.93 572.67,144.99 573.37,145.05 574.07,145.12 574.76,145.18 575.46,145.24 576.15,145.30 576.85,145.36 577.55,145.42 578.24,145.48 578.94,145.54 579.64,145.59 580.34,145.65 581.03,145.71 581.73,145.77 582.43,145.82 583.12,145.88 583.82,145.93 584.52,145.99 585.22,146.04 585.91,146.10 586.61,146.15 587.31,146.21 588.01,146.26 588.70,146.31 589.40,146.36 590.10,146.42 590.80,146.47 591.49,146.52 592.19,146.57 592.89,146.63 593.59,146.68 594.29,146.73 594.98,146.78 595.68,146.83 596.38,146.88 597.08,146.93 597.78,146.98 598.47,147.03 599.17,147.08 599.87,147.13 600.57,147.18 601.27,147.23 601.97,147.29 602.66,147.34 603.36,147.39 604.06,147.44 604.76,147.49 605.46,147.54 606.15,147.59 606.85,147.64 607.55,147.69 608.25,147.74 608.95,147.79 609.64,147.84 610.34,147.89 611.04,147.94 611.74,148.00 612.44,148.05 613.13,148.10 613.83,148.15 614.53,148.20 615.23,148.26 615.92,148.31 616.62,148.36 617.32,148.42 618.02,148.47 618.71,148.52 619.41,148.58 620.11,148.63 620.81,148.69 621.50,148.74 622.20,148.80" fill="none" stroke="#1C9FA2" stroke-width="1.7" stroke-linejoin="round"/>
<polyline points="409.30,150.99 409.41,151.84 409.52,152.64 409.63,153.40 409.74,154.14 409.85,154.84 409.97,155.52 410.08,156.18 410.20,156.81 410.33,157.43 410.46,158.04 410.59,158.64 410.72,159.23 410.87,159.81 411.02,160.40 411.17,160.99 411.34,161.58 411.51,162.19 411.69,162.81 411.87,163.44 412.07,164.09 412.28,164.77 412.50,165.47 412.73,166.20 412.97,166.95 413.22,167.73 413.48,168.53 413.76,169.33 414.05,170.13 414.36,170.93 414.68,171.72 415.01,172.49 415.36,173.23 415.73,173.94 416.11,174.61 416.51,175.23 416.93,175.80 417.36,176.31 417.82,176.76 418.29,177.13 418.79,177.42 419.30,177.64 419.82,177.78 420.36,177.86 420.91,177.87 421.47,177.82 422.04,177.72 422.61,177.56 423.18,177.35 423.76,177.09 424.33,176.79 424.90,176.46 425.47,176.08 426.03,175.68 426.58,175.24 427.12,174.78 427.64,174.30 428.15,173.80 428.64,173.29 429.12,172.76 429.57,172.23 430.01,171.68 430.43,171.13 430.83,170.56 431.22,169.99 431.59,169.41 431.94,168.81 432.28,168.21 432.60,167.61 432.91,166.99 433.21,166.37 433.49,165.74 433.76,165.10 434.02,164.46 434.27,163.81 434.51,163.15 434.73,162.49 434.95,161.82 435.16,161.15 435.35,160.48 435.54,159.80 435.72,159.11 435.90,158.43 436.06,157.74 436.23,157.04 436.38,156.35 436.53,155.65 436.67,154.95 436.81,154.25 436.95,153.55 437.08,152.84 437.21,152.14 437.34,151.44 437.47,150.73 437.59,150.03 437.72,149.32 437.84,148.62 437.96,147.92 438.09,147.22 438.22,146.52 438.34,145.83 438.47,145.14 438.61,144.44 438.74,143.75 438.88,143.06 439.03,142.38 439.18,141.69 439.33,141.01 439.49,140.33 439.66,139.65 439.83,138.97 440.01,138.29 440.20,137.62 440.40,136.95 440.60,136.28 440.82,135.61 441.05,134.95 441.28,134.28 441.53,133.62 441.79,132.96 442.06,132.31 442.34,131.65 442.64,131.00 442.95,130.35 443.27,129.70 443.61,129.06 443.96,128.41 444.33,127.77 444.72,127.13 445.12,126.51 445.53,125.90 445.97,125.35 446.42,124.85 446.88,124.43 447.36,124.11 447.86,123.91 448.37,123.83 448.89,123.86 449.42,123.99 449.97,124.18 450.52,124.42 451.08,124.68 451.64,124.94 452.21,125.21 452.79,125.50 453.36,125.78 453.95,126.08 454.53,126.38 455.12,126.69 455.72,127.00 456.32,127.32 456.92,127.64 457.53,127.97 458.14,128.30 458.75,128.63 459.37,128.97 459.99,129.31 460.61,129.65 461.24,130.00 461.87,130.34 462.51,130.69 463.14,131.03 463.78,131.38 464.42,131.73 465.07,132.07 465.71,132.41 466.36,132.76 467.01,133.10 467.67,133.43 468.32,133.77 468.98,134.10 469.64,134.42 470.30,134.75 470.96,135.06 471.62,135.38 472.29,135.68 472.95,135.98 473.62,136.28 474.29,136.57 474.96,136.85 475.63,137.12 476.30,137.38 476.97,137.64 477.64,137.89 478.31,138.13 478.98,138.36 479.65,138.58 480.33,138.79 481.00,139.00 481.67,139.20 482.35,139.39 483.02,139.57 483.70,139.75 484.38,139.92 485.05,140.08 485.73,140.24 486.41,140.38 487.09,140.53 487.76,140.66 488.44,140.79 489.12,140.91 489.80,141.02 490.48,141.13 491.16,141.24 491.84,141.33 492.52,141.42 493.21,141.51 493.89,141.59 494.57,141.66 495.26,141.73 495.94,141.80 496.62,141.85 497.31,141.91 497.99,141.96 498.68,142.00 499.36,142.04 500.05,142.07 500.73,142.11 501.42,142.13 502.11,142.15 502.80,142.17 503.48,142.19 504.17,142.20 504.86,142.20 505.55,142.21 506.24,142.21 506.93,142.20 507.62,142.20 508.31,142.19 509.00,142.17 509.69,142.16 510.38,142.14 511.07,142.12 511.76,142.10 512.46,142.07 513.15,142.04 513.84,142.02 514.53,141.98 515.23,141.95 515.92,141.92 516.62,141.88 517.31,141.84 518.00,141.80 518.70,141.76 519.39,141.72 520.09,141.68 520.78,141.63 521.48,141.59 522.18,141.54 522.87,141.50 523.57,141.45 524.27,141.41 524.96,141.36 525.66,141.32 526.36,141.27 527.05,141.22 527.75,141.18 528.45,141.13 529.15,141.09 529.85,141.04 530.55,141.00 531.24,140.96 531.94,140.91 532.64,140.87 533.34,140.82 534.04,140.78 534.74,140.74 535.44,140.69 536.14,140.65 536.84,140.61 537.54,140.57 538.24,140.52 538.94,140.48 539.64,140.44 540.35,140.40 541.05,140.36 541.75,140.32 542.45,140.28 543.15,140.24 543.85,140.20 544.55,140.16 545.26,140.12 545.96,140.08 546.66,140.04 547.36,140.00 548.06,139.96 548.77,139.92 549.47,139.88 550.17,139.84 550.87,139.80 551.58,139.76 552.28,139.73 552.98,139.69 553.69,139.65 554.39,139.61 555.09,139.58 555.79,139.54 556.50,139.50 557.20,139.47 557.90,139.43 558.61,139.39 559.31,139.36 560.01,139.32 560.72,139.29 561.42,139.25 562.12,139.22 562.83,139.18 563.53,139.15 564.23,139.11 564.94,139.08 565.64,139.04 566.34,139.01 567.05,138.97 567.75,138.94 568.45,138.91 569.16,138.87 569.86,138.84 570.56,138.81 571.27,138.77 571.97,138.74 572.67,138.71 573.37,138.68 574.08,138.64 574.78,138.61 575.48,138.58 576.19,138.55 576.89,138.52 577.59,138.49 578.29,138.45 579.00,138.42 579.70,138.39 580.40,138.36 581.10,138.33 581.80,138.30 582.51,138.27 583.21,138.24 583.91,138.21 584.61,138.18 585.31,138.15 586.01,138.12 586.71,138.09 587.42,138.07 588.12,138.04 588.82,138.01 589.52,137.98 590.22,137.95 590.92,137.92 591.62,137.89 592.32,137.87 593.02,137.84 593.72,137.81 594.42,137.78 595.12,137.76 595.81,137.73 596.51,137.70 597.21,137.68 597.91,137.65 598.61,137.62 599.31,137.60 600.00,137.57 600.70,137.54 601.40,137.52 602.10,137.49 602.79,137.47 603.49,137.44 604.19,137.42 604.88,137.39 605.58,137.36 606.27,137.34 606.97,137.31 607.66,137.29 608.36,137.27 609.05,137.24 609.75,137.22 610.44,137.19 611.14,137.17 611.83,137.14 612.52,137.12 613.22,137.10 613.91,137.07 614.60,137.05 615.29,137.03 615.98,137.00 616.68,136.98 617.37,136.96 618.06,136.94 618.75,136.91 619.44,136.89 620.13,136.87 620.82,136.85 621.51,136.82 622.19,136.80" fill="none" stroke="#E0686A" stroke-width="1.7" stroke-linejoin="round"/>
<rect x="398.6" y="18.7" width="233.89999999999998" height="169.8" fill="none" stroke="#7A7A7A" stroke-width="1"/>
<line x1="409.23" y1="188.5" x2="409.23" y2="191.0" stroke="#7A7A7A" stroke-width="1"/>
<line x1="468.3" y1="188.5" x2="468.3" y2="191.0" stroke="#7A7A7A" stroke-width="1"/>
<line x1="527.36" y1="188.5" x2="527.36" y2="191.0" stroke="#7A7A7A" stroke-width="1"/>
<line x1="586.42" y1="188.5" x2="586.42" y2="191.0" stroke="#7A7A7A" stroke-width="1"/>
<line x1="396.1" y1="155.4" x2="398.6" y2="155.4" stroke="#7A7A7A" stroke-width="1"/>
<line x1="396.1" y1="111.8" x2="398.6" y2="111.8" stroke="#7A7A7A" stroke-width="1"/>
<line x1="396.1" y1="68.2" x2="398.6" y2="68.2" stroke="#7A7A7A" stroke-width="1"/>
<line x1="396.1" y1="24.6" x2="398.6" y2="24.6" stroke="#7A7A7A" stroke-width="1"/>
<text x="409.23" y="195.8" font-size="6.4" class="tk" text-anchor="middle" dominant-baseline="central">0</text>
<text x="468.3" y="195.8" font-size="6.4" class="tk" text-anchor="middle" dominant-baseline="central">25</text>
<text x="527.36" y="195.8" font-size="6.4" class="tk" text-anchor="middle" dominant-baseline="central">50</text>
<text x="586.42" y="195.8" font-size="6.4" class="tk" text-anchor="middle" dominant-baseline="central">75</text>
<text x="394.6" y="155.4" font-size="6.4" class="tk" text-anchor="end" dominant-baseline="central">250</text>
<text x="394.6" y="111.8" font-size="6.4" class="tk" text-anchor="end" dominant-baseline="central">500</text>
<text x="394.6" y="68.2" font-size="6.4" class="tk" text-anchor="end" dominant-baseline="central">750</text>
<text x="394.6" y="24.6" font-size="6.4" class="tk" text-anchor="end" dominant-baseline="central">1000</text>
<text x="516.1" y="205.6" font-size="8.6" class="ti" text-anchor="middle" dominant-baseline="central">Days</text>
<text transform="translate(369.0,103.5) rotate(-90)" font-size="8.75" class="ti" text-anchor="middle">Platelet impedance count (10<tspan font-size="5.775" dx="0.4" dy="-3.8">9</tspan><tspan dx="0.6" dy="3.8">/L)</tspan></text>
<text x="644.6999999999999" y="90.4" font-size="8.6" class="ti" dominant-baseline="central">Sepsis</text>
<rect x="645.8" y="96.9" width="10.4" height="10.4" fill="#F8766D" fill-opacity="0.2" stroke="#E07676" stroke-width="0.8" stroke-opacity="0.8"/>
<line x1="645.8" y1="102.10000000000001" x2="656.1999999999999" y2="102.10000000000001" stroke="#E07676" stroke-width="1.6"/>
<text x="658.4999999999999" y="102.10000000000001" font-size="6.88" class="ti" dominant-baseline="central">Yes</text>
<rect x="645.8" y="109.10000000000001" width="10.4" height="10.4" fill="#00CDD2" fill-opacity="0.2" stroke="#2A9E9F" stroke-width="0.8" stroke-opacity="0.8"/>
<line x1="645.8" y1="114.30000000000001" x2="656.1999999999999" y2="114.30000000000001" stroke="#2A9E9F" stroke-width="1.6"/>
<text x="658.4999999999999" y="114.30000000000001" font-size="6.88" class="ti" dominant-baseline="central">No</text>
<text x="346.6" y="10.4" font-size="10.5" class="pl">B</text>
<rect x="55.5" y="261.8" width="237.10000000000002" height="170.2" fill="#fff"/>
<line x1="96.23" y1="261.8" x2="96.23" y2="432.0" stroke="#F6F6F6" stroke-width="0.7"/>
<line x1="156.13" y1="261.8" x2="156.13" y2="432.0" stroke="#F6F6F6" stroke-width="0.7"/>
<line x1="216.03" y1="261.8" x2="216.03" y2="432.0" stroke="#F6F6F6" stroke-width="0.7"/>
<line x1="275.93" y1="261.8" x2="275.93" y2="432.0" stroke="#F6F6F6" stroke-width="0.7"/>
<line x1="55.5" y1="417.98" x2="292.6" y2="417.98" stroke="#F6F6F6" stroke-width="0.7"/>
<line x1="55.5" y1="373.19" x2="292.6" y2="373.19" stroke="#F6F6F6" stroke-width="0.7"/>
<line x1="55.5" y1="328.39" x2="292.6" y2="328.39" stroke="#F6F6F6" stroke-width="0.7"/>
<line x1="55.5" y1="283.61" x2="292.6" y2="283.61" stroke="#F6F6F6" stroke-width="0.7"/>
<line x1="66.28" y1="261.8" x2="66.28" y2="432.0" stroke="#F0F0F0" stroke-width="1"/>
<line x1="126.18" y1="261.8" x2="126.18" y2="432.0" stroke="#F0F0F0" stroke-width="1"/>
<line x1="186.08" y1="261.8" x2="186.08" y2="432.0" stroke="#F0F0F0" stroke-width="1"/>
<line x1="245.98" y1="261.8" x2="245.98" y2="432.0" stroke="#F0F0F0" stroke-width="1"/>
<line x1="55.5" y1="395.58" x2="292.6" y2="395.58" stroke="#F0F0F0" stroke-width="1"/>
<line x1="55.5" y1="350.79" x2="292.6" y2="350.79" stroke="#F0F0F0" stroke-width="1"/>
<line x1="55.5" y1="306.0" x2="292.6" y2="306.0" stroke="#F0F0F0" stroke-width="1"/>
<polygon points="66.11,367.01 66.15,367.45 66.19,367.97 66.24,368.54 66.30,369.16 66.37,369.83 66.45,370.54 66.54,371.28 66.64,372.05 66.76,372.84 66.89,373.65 67.04,374.47 67.21,375.29 67.40,376.11 67.61,376.92 67.85,377.71 68.11,378.49 68.40,379.24 68.71,379.95 69.05,380.62 69.43,381.25 69.83,381.83 70.26,382.35 70.71,382.80 71.17,383.16 71.62,383.43 72.07,383.61 72.50,383.67 72.91,383.62 73.31,383.48 73.68,383.25 74.04,382.95 74.38,382.58 74.70,382.17 75.01,381.72 75.31,381.22 75.60,380.69 75.88,380.12 76.14,379.52 76.40,378.90 76.65,378.25 76.90,377.58 77.13,376.90 77.37,376.20 77.60,375.49 77.83,374.78 78.06,374.07 78.28,373.36 78.51,372.65 78.74,371.94 78.96,371.23 79.19,370.53 79.42,369.82 79.65,369.12 79.87,368.42 80.10,367.73 80.33,367.03 80.56,366.34 80.78,365.64 81.01,364.95 81.24,364.26 81.47,363.57 81.69,362.89 81.92,362.20 82.15,361.52 82.38,360.84 82.60,360.16 82.83,359.48 83.06,358.80 83.29,358.12 83.51,357.44 83.74,356.77 83.97,356.10 84.20,355.42 84.42,354.75 84.65,354.08 84.88,353.41 85.10,352.75 85.33,352.08 85.56,351.41 85.79,350.75 86.01,350.09 86.24,349.42 86.47,348.76 86.69,348.10 86.92,347.44 87.14,346.78 87.37,346.12 87.60,345.46 87.82,344.80 88.05,344.15 88.27,343.49 88.50,342.83 88.73,342.18 88.95,341.52 89.18,340.87 89.40,340.22 89.63,339.56 89.85,338.91 90.08,338.26 90.30,337.60 90.53,336.95 90.75,336.30 90.98,335.65 91.20,335.00 91.42,334.35 91.65,333.70 91.87,333.04 92.10,332.39 92.32,331.74 92.54,331.09 92.76,330.44 92.99,329.79 93.21,329.14 93.43,328.49 93.66,327.84 93.88,327.19 94.10,326.54 94.32,325.88 94.54,325.23 94.76,324.58 94.99,323.93 95.21,323.28 95.43,322.62 95.65,321.97 95.87,321.31 96.09,320.66 96.31,320.01 96.53,319.35 96.75,318.69 96.97,318.04 97.19,317.38 97.40,316.72 97.62,316.06 97.84,315.41 98.06,314.75 98.28,314.09 98.49,313.42 98.71,312.76 98.93,312.10 99.14,311.44 99.36,310.77 99.57,310.11 99.79,309.44 100.00,308.78 100.22,308.11 100.43,307.44 100.64,306.78 100.85,306.11 101.06,305.44 101.27,304.77 101.48,304.10 101.69,303.44 101.89,302.77 102.10,302.10 102.30,301.43 102.51,300.75 102.71,300.08 102.91,299.41 103.11,298.74 103.31,298.07 103.51,297.40 103.71,296.73 103.90,296.05 104.09,295.38 104.29,294.71 104.48,294.04 104.67,293.36 104.85,292.69 105.04,292.02 105.23,291.34 105.41,290.67 105.59,290.00 105.77,289.33 105.95,288.65 106.12,287.98 106.30,287.31 106.48,286.64 106.67,285.96 106.85,285.29 107.04,284.62 107.24,283.95 107.45,283.28 107.66,282.60 107.88,281.93 108.12,281.26 108.36,280.59 108.62,279.92 108.89,279.25 109.17,278.58 109.47,277.91 109.79,277.25 110.13,276.58 110.48,275.91 110.86,275.24 111.26,274.57 111.67,273.91 112.11,273.26 112.57,272.64 113.04,272.04 113.53,271.49 114.03,270.99 114.54,270.54 115.06,270.16 115.59,269.86 116.13,269.65 116.67,269.53 117.22,269.51 117.77,269.61 118.32,269.80 118.86,270.08 119.41,270.44 119.95,270.87 120.48,271.35 121.01,271.87 121.53,272.42 122.04,272.99 122.53,273.56 123.02,274.14 123.49,274.72 123.95,275.30 124.40,275.89 124.83,276.47 125.26,277.06 125.67,277.64 126.08,278.23 126.48,278.82 126.87,279.41 127.25,280.01 127.62,280.60 127.99,281.20 128.34,281.79 128.69,282.39 129.04,282.99 129.38,283.59 129.71,284.19 130.04,284.79 130.37,285.39 130.69,285.99 131.01,286.59 131.32,287.19 131.63,287.79 131.94,288.40 132.25,289.00 132.56,289.61 132.86,290.21 133.17,290.81 133.47,291.42 133.77,292.02 134.07,292.63 134.38,293.23 134.68,293.84 134.98,294.44 135.28,295.04 135.59,295.65 135.90,296.25 136.20,296.85 136.51,297.45 136.83,298.05 137.14,298.65 137.46,299.25 137.78,299.85 138.10,300.45 138.43,301.05 138.76,301.65 139.09,302.24 139.43,302.84 139.78,303.43 140.13,304.02 140.48,304.61 140.84,305.20 141.20,305.79 141.57,306.38 141.94,306.97 142.32,307.55 142.70,308.13 143.09,308.71 143.48,309.29 143.87,309.87 144.27,310.45 144.68,311.02 145.09,311.59 145.50,312.16 145.91,312.73 146.33,313.30 146.76,313.86 147.19,314.42 147.62,314.98 148.06,315.54 148.50,316.09 148.94,316.65 149.39,317.20 149.84,317.74 150.29,318.29 150.75,318.83 151.22,319.37 151.68,319.91 152.15,320.44 152.63,320.97 153.10,321.50 153.58,322.02 154.07,322.54 154.55,323.06 155.04,323.58 155.54,324.09 156.03,324.60 156.53,325.10 157.03,325.60 157.54,326.10 158.05,326.60 158.56,327.09 159.08,327.58 159.59,328.06 160.11,328.54 160.64,329.02 161.16,329.49 161.69,329.96 162.22,330.42 162.75,330.88 163.29,331.34 163.83,331.79 164.37,332.23 164.91,332.68 165.46,333.12 166.01,333.55 166.56,333.98 167.11,334.41 167.67,334.83 168.23,335.25 168.79,335.66 169.35,336.07 169.91,336.48 170.48,336.88 171.05,337.28 171.62,337.68 172.20,338.07 172.77,338.45 173.35,338.84 173.93,339.22 174.51,339.59 175.10,339.97 175.68,340.33 176.27,340.70 176.86,341.06 177.45,341.42 178.05,341.77 178.64,342.12 179.24,342.47 179.84,342.81 180.45,343.15 181.05,343.49 181.66,343.82 182.26,344.15 182.87,344.47 183.49,344.80 184.10,345.11 184.71,345.43 185.33,345.74 185.95,346.05 186.57,346.36 187.19,346.66 187.82,346.96 188.44,347.26 189.07,347.55 189.70,347.84 190.33,348.13 190.96,348.41 191.59,348.70 192.23,348.97 192.86,349.25 193.50,349.52 194.14,349.79 194.78,350.06 195.42,350.32 196.07,350.58 196.71,350.84 197.36,351.10 198.01,351.35 198.66,351.60 199.31,351.85 199.96,352.09 200.61,352.33 201.27,352.57 201.92,352.81 202.58,353.04 203.24,353.27 203.90,353.50 204.56,353.73 205.22,353.95 205.88,354.18 206.55,354.40 207.21,354.61 207.88,354.83 208.54,355.04 209.21,355.25 209.88,355.46 210.55,355.66 211.22,355.87 211.90,356.07 212.57,356.27 213.24,356.47 213.92,356.66 214.59,356.85 215.27,357.04 215.95,357.23 216.63,357.42 217.30,357.60 217.98,357.79 218.66,357.97 219.35,358.15 220.03,358.32 220.71,358.50 221.39,358.67 222.08,358.84 222.76,359.01 223.45,359.18 224.13,359.35 224.82,359.51 225.51,359.68 226.20,359.84 226.88,360.00 227.57,360.16 228.26,360.31 228.95,360.47 229.64,360.62 230.33,360.78 231.02,360.93 231.71,361.08 232.41,361.23 233.10,361.37 233.79,361.52 234.48,361.66 235.17,361.81 235.87,361.95 236.56,362.09 237.25,362.23 237.95,362.37 238.64,362.50 239.34,362.64 240.03,362.77 240.73,362.91 241.42,363.04 242.11,363.17 242.81,363.30 243.50,363.43 244.20,363.56 244.89,363.69 245.59,363.82 246.28,363.94 246.98,364.07 247.67,364.19 248.37,364.32 249.06,364.44 249.76,364.56 250.45,364.68 251.14,364.81 251.84,364.93 252.53,365.05 253.22,365.16 253.92,365.28 254.61,365.40 255.30,365.52 256.00,365.64 256.69,365.75 257.38,365.87 258.07,365.99 258.76,366.10 259.45,366.22 260.14,366.33 260.83,366.45 261.52,366.56 262.21,366.68 262.90,366.79 263.59,366.90 264.27,367.02 264.96,367.13 265.64,367.24 266.33,367.36 267.01,367.47 267.70,367.58 268.38,367.70 269.07,367.81 269.75,367.92 270.43,368.04 271.11,368.15 271.79,368.27 272.47,368.38 273.15,368.49 273.82,368.61 274.50,368.72 275.18,368.84 275.85,368.95 276.53,369.07 277.20,369.18 277.87,369.30 278.54,369.42 279.21,369.53 279.88,369.65 280.55,369.77 281.22,369.89 281.88,370.01 281.92,416.60 281.21,416.47 280.50,416.34 279.79,416.21 279.09,416.09 278.38,415.97 277.68,415.85 276.97,415.74 276.27,415.63 275.56,415.52 274.86,415.41 274.15,415.31 273.45,415.21 272.75,415.12 272.05,415.02 271.34,414.93 270.64,414.84 269.94,414.75 269.24,414.67 268.54,414.58 267.84,414.50 267.14,414.42 266.44,414.34 265.74,414.27 265.05,414.19 264.35,414.12 263.65,414.05 262.96,413.97 262.26,413.90 261.56,413.83 260.87,413.77 260.17,413.70 259.48,413.63 258.78,413.56 258.09,413.50 257.40,413.43 256.70,413.37 256.01,413.30 255.32,413.24 254.63,413.17 253.94,413.11 253.24,413.04 252.55,412.97 251.86,412.91 251.17,412.84 250.48,412.77 249.79,412.70 249.11,412.64 248.42,412.57 247.73,412.49 247.04,412.42 246.35,412.35 245.67,412.27 244.98,412.20 244.29,412.12 243.61,412.04 242.92,411.96 242.24,411.88 241.55,411.79 240.87,411.70 240.18,411.62 239.50,411.52 238.82,411.43 238.13,411.34 237.45,411.24 236.77,411.14 236.09,411.03 235.40,410.93 234.72,410.82 234.04,410.70 233.36,410.59 232.68,410.47 232.00,410.35 231.32,410.22 230.64,410.09 229.96,409.96 229.28,409.82 228.60,409.68 227.93,409.54 227.25,409.39 226.57,409.24 225.89,409.09 225.22,408.93 224.54,408.77 223.86,408.61 223.19,408.45 222.51,408.28 221.84,408.11 221.16,407.93 220.49,407.76 219.81,407.58 219.14,407.40 218.46,407.22 217.79,407.03 217.11,406.85 216.44,406.66 215.77,406.47 215.10,406.28 214.42,406.09 213.75,405.89 213.08,405.70 212.41,405.50 211.74,405.30 211.06,405.11 210.39,404.91 209.72,404.71 209.05,404.51 208.38,404.31 207.71,404.10 207.04,403.90 206.37,403.70 205.70,403.50 205.03,403.30 204.37,403.09 203.70,402.89 203.03,402.69 202.36,402.49 201.69,402.29 201.03,402.09 200.36,401.89 199.69,401.69 199.02,401.49 198.36,401.30 197.69,401.10 197.03,400.91 196.36,400.71 195.69,400.52 195.03,400.33 194.36,400.14 193.70,399.96 193.03,399.77 192.37,399.59 191.70,399.40 191.04,399.22 190.37,399.04 189.71,398.86 189.05,398.68 188.38,398.51 187.72,398.33 187.06,398.15 186.39,397.97 185.73,397.80 185.07,397.62 184.40,397.45 183.74,397.27 183.08,397.09 182.42,396.92 181.76,396.74 181.09,396.56 180.43,396.38 179.77,396.20 179.11,396.03 178.45,395.84 177.79,395.66 177.13,395.48 176.47,395.30 175.81,395.11 175.15,394.92 174.49,394.73 173.83,394.54 173.17,394.35 172.51,394.16 171.85,393.96 171.19,393.76 170.53,393.56 169.87,393.36 169.21,393.16 168.55,392.95 167.89,392.74 167.23,392.53 166.57,392.31 165.91,392.09 165.26,391.87 164.60,391.64 163.94,391.41 163.28,391.18 162.62,390.95 161.97,390.71 161.31,390.46 160.65,390.22 159.99,389.97 159.34,389.71 158.68,389.45 158.02,389.19 157.36,388.92 156.71,388.65 156.05,388.37 155.39,388.09 154.74,387.81 154.08,387.53 153.42,387.24 152.77,386.95 152.11,386.65 151.45,386.36 150.80,386.06 150.14,385.76 149.48,385.46 148.83,385.15 148.17,384.85 147.52,384.54 146.86,384.23 146.20,383.92 145.55,383.61 144.89,383.30 144.24,382.99 143.58,382.68 142.92,382.37 142.27,382.06 141.61,381.75 140.96,381.44 140.30,381.13 139.65,380.82 138.99,380.51 138.34,380.21 137.68,379.90 137.02,379.60 136.37,379.30 135.71,379.00 135.06,378.70 134.40,378.41 133.75,378.12 133.09,377.83 132.44,377.54 131.78,377.26 131.13,376.98 130.47,376.70 129.82,376.43 129.16,376.16 128.51,375.90 127.85,375.64 127.20,375.38 126.54,375.13 125.89,374.89 125.23,374.65 124.58,374.42 123.92,374.20 123.27,373.99 122.62,373.79 121.97,373.60 121.32,373.43 120.67,373.26 120.02,373.11 119.37,372.97 118.73,372.85 118.08,372.74 117.44,372.65 116.80,372.57 116.16,372.52 115.52,372.48 114.89,372.46 114.25,372.46 113.62,372.48 112.99,372.53 112.37,372.59 111.74,372.68 111.12,372.80 110.50,372.94 109.88,373.10 109.27,373.29 108.66,373.50 108.05,373.75 107.44,374.02 106.85,374.32 106.25,374.64 105.67,374.99 105.10,375.37 104.53,375.77 103.99,376.19 103.45,376.63 102.93,377.09 102.44,377.58 101.96,378.08 101.50,378.60 101.06,379.14 100.65,379.70 100.27,380.27 99.90,380.86 99.55,381.46 99.23,382.07 98.92,382.70 98.63,383.34 98.35,383.99 98.08,384.65 97.83,385.31 97.59,385.99 97.36,386.67 97.13,387.36 96.91,388.06 96.70,388.76 96.49,389.46 96.29,390.17 96.08,390.88 95.88,391.59 95.67,392.30 95.46,393.01 95.25,393.72 95.03,394.43 94.80,395.14 94.57,395.84 94.32,396.53 94.07,397.23 93.80,397.91 93.52,398.59 93.24,399.26 92.94,399.92 92.63,400.58 92.31,401.22 91.98,401.86 91.64,402.49 91.29,403.10 90.93,403.70 90.55,404.29 90.17,404.87 89.77,405.43 89.36,405.98 88.94,406.51 88.51,407.03 88.06,407.53 87.61,408.02 87.14,408.49 86.66,408.94 86.17,409.37 85.66,409.78 85.15,410.17 84.62,410.54 84.08,410.89 83.52,411.21 82.96,411.52 82.38,411.80 81.79,412.05 81.18,412.29 80.56,412.49 79.93,412.67 79.29,412.83 78.63,412.96 77.97,413.07 77.29,413.16 76.61,413.24 75.93,413.32 75.25,413.40 74.57,413.49 73.90,413.59 73.24,413.71 72.58,413.86 71.95,414.03 71.32,414.24 70.72,414.48 70.14,414.78 69.58,415.12 69.05,415.51 68.55,415.95 68.08,416.44 67.65,416.98 67.25,417.59 66.89,418.25 66.58,418.97 66.31,419.76 66.09,420.61" fill="#00CDD2" fill-opacity="0.19" stroke="#2A9E9F" stroke-width="1.05" stroke-linejoin="round"/>
<polygon points="66.11,384.51 66.14,385.07 66.17,385.66 66.20,386.27 66.23,386.89 66.26,387.53 66.30,388.19 66.34,388.87 66.38,389.56 66.43,390.26 66.48,390.97 66.54,391.69 66.60,392.43 66.67,393.17 66.75,393.91 66.83,394.67 66.92,395.43 67.03,396.19 67.13,396.95 67.25,397.72 67.38,398.48 67.52,399.24 67.67,400.00 67.83,400.76 68.01,401.51 68.19,402.26 68.40,403.00 68.61,403.73 68.84,404.45 69.08,405.15 69.34,405.84 69.62,406.52 69.91,407.17 70.22,407.81 70.54,408.42 70.89,409.01 71.25,409.57 71.63,410.11 72.03,410.62 72.45,411.09 72.90,411.53 73.36,411.93 73.85,412.30 74.36,412.63 74.88,412.92 75.43,413.17 76.00,413.38 76.58,413.56 77.17,413.70 77.78,413.80 78.40,413.87 79.03,413.90 79.66,413.90 80.30,413.87 80.94,413.81 81.58,413.71 82.23,413.58 82.87,413.42 83.51,413.23 84.15,413.01 84.77,412.76 85.39,412.48 86.00,412.17 86.60,411.84 87.18,411.48 87.75,411.09 88.30,410.68 88.84,410.24 89.36,409.78 89.86,409.30 90.34,408.80 90.81,408.27 91.27,407.73 91.72,407.18 92.15,406.60 92.57,406.02 92.97,405.42 93.37,404.80 93.75,404.18 94.13,403.55 94.50,402.91 94.86,402.26 95.21,401.61 95.55,400.95 95.89,400.30 96.22,399.64 96.55,398.97 96.87,398.31 97.19,397.66 97.51,397.00 97.82,396.35 98.14,395.71 98.45,395.07 98.76,394.45 99.06,393.83 99.37,393.21 99.68,392.60 99.99,392.00 100.30,391.40 100.60,390.81 100.91,390.22 101.22,389.63 101.53,389.05 101.84,388.46 102.14,387.88 102.45,387.30 102.76,386.72 103.08,386.14 103.39,385.55 103.70,384.97 104.02,384.38 104.33,383.79 104.65,383.20 104.97,382.60 105.29,382.00 105.61,381.39 105.94,380.77 106.26,380.15 106.59,379.52 106.92,378.89 107.26,378.24 107.59,377.59 107.93,376.94 108.27,376.28 108.62,375.62 108.97,374.96 109.33,374.29 109.69,373.63 110.05,372.97 110.42,372.32 110.80,371.67 111.18,371.03 111.57,370.40 111.96,369.78 112.36,369.17 112.77,368.57 113.19,367.98 113.61,367.41 114.05,366.86 114.49,366.32 114.94,365.81 115.40,365.31 115.87,364.84 116.35,364.39 116.84,363.96 117.34,363.56 117.85,363.19 118.37,362.85 118.91,362.53 119.45,362.25 120.01,361.99 120.58,361.76 121.15,361.56 121.74,361.38 122.33,361.23 122.94,361.10 123.55,360.99 124.17,360.90 124.80,360.84 125.44,360.79 126.08,360.76 126.73,360.75 127.39,360.75 128.05,360.77 128.72,360.80 129.40,360.85 130.08,360.91 130.76,360.98 131.45,361.06 132.14,361.15 132.84,361.25 133.54,361.35 134.24,361.46 134.94,361.58 135.65,361.70 136.36,361.82 137.06,361.95 137.78,362.08 138.49,362.21 139.20,362.33 139.91,362.46 140.62,362.58 141.33,362.70 142.04,362.82 142.75,362.94 143.46,363.05 144.17,363.17 144.88,363.28 145.59,363.38 146.30,363.49 147.01,363.59 147.71,363.69 148.42,363.79 149.13,363.89 149.84,363.98 150.54,364.08 151.25,364.17 151.96,364.26 152.66,364.34 153.37,364.43 154.08,364.51 154.78,364.59 155.49,364.67 156.19,364.75 156.90,364.83 157.60,364.90 158.30,364.97 159.01,365.04 159.71,365.11 160.42,365.17 161.12,365.24 161.82,365.30 162.53,365.36 163.23,365.42 163.93,365.48 164.63,365.53 165.33,365.59 166.04,365.64 166.74,365.69 167.44,365.74 168.14,365.79 168.84,365.84 169.54,365.88 170.24,365.92 170.94,365.96 171.64,366.00 172.34,366.04 173.04,366.08 173.74,366.12 174.44,366.15 175.14,366.18 175.84,366.22 176.54,366.25 177.24,366.27 177.94,366.30 178.64,366.33 179.34,366.35 180.04,366.38 180.73,366.40 181.43,366.42 182.13,366.44 182.83,366.46 183.53,366.48 184.22,366.49 184.92,366.51 185.62,366.52 186.31,366.54 187.01,366.55 187.71,366.56 188.41,366.57 189.10,366.58 189.80,366.59 190.50,366.59 191.19,366.60 191.89,366.61 192.58,366.61 193.28,366.61 193.98,366.62 194.67,366.62 195.37,366.62 196.06,366.62 196.76,366.62 197.46,366.62 198.15,366.61 198.85,366.61 199.54,366.61 200.24,366.60 200.93,366.60 201.63,366.59 202.32,366.58 203.02,366.58 203.71,366.57 204.41,366.56 205.10,366.55 205.80,366.54 206.49,366.53 207.19,366.52 207.88,366.51 208.58,366.50 209.27,366.49 209.97,366.47 210.66,366.46 211.36,366.45 212.05,366.43 212.74,366.42 213.44,366.40 214.13,366.39 214.83,366.37 215.52,366.36 216.22,366.34 216.91,366.33 217.61,366.31 218.30,366.29 219.00,366.28 219.69,366.26 220.39,366.24 221.08,366.23 221.77,366.21 222.47,366.19 223.16,366.17 223.86,366.16 224.55,366.14 225.25,366.12 225.94,366.10 226.64,366.08 227.33,366.07 228.03,366.05 228.72,366.03 229.42,366.01 230.11,366.00 230.81,365.98 231.50,365.96 232.20,365.95 232.89,365.93 233.59,365.91 234.29,365.90 234.98,365.88 235.68,365.86 236.37,365.85 237.07,365.83 237.76,365.82 238.46,365.80 239.16,365.79 239.85,365.77 240.55,365.76 241.25,365.75 241.94,365.73 242.64,365.72 243.34,365.71 244.03,365.70 244.73,365.69 245.43,365.68 246.12,365.67 246.82,365.66 247.52,365.65 248.22,365.64 248.91,365.63 249.61,365.63 250.31,365.62 251.01,365.61 251.71,365.61 252.40,365.60 253.10,365.60 253.80,365.60 254.50,365.60 255.20,365.60 255.90,365.59 256.60,365.60 257.30,365.60 258.00,365.60 258.70,365.60 259.40,365.61 260.10,365.61 260.80,365.62 261.50,365.62 262.20,365.63 262.90,365.64 263.60,365.65 264.30,365.66 265.00,365.67 265.71,365.68 266.41,365.70 267.11,365.71 267.81,365.73 268.51,365.74 269.22,365.76 269.92,365.78 270.62,365.80 271.33,365.82 272.03,365.85 272.73,365.87 273.44,365.90 274.14,365.92 274.85,365.95 275.55,365.98 276.26,366.01 276.96,366.05 277.67,366.08 278.37,366.11 279.08,366.15 279.79,366.19 280.49,366.23 281.20,366.27 281.91,366.31 281.91,398.41 281.20,398.39 280.49,398.38 279.79,398.36 279.08,398.35 278.37,398.33 277.67,398.31 276.96,398.29 276.26,398.27 275.55,398.25 274.85,398.23 274.15,398.21 273.44,398.19 272.74,398.17 272.04,398.14 271.34,398.12 270.63,398.09 269.93,398.07 269.23,398.04 268.53,398.01 267.83,397.99 267.13,397.96 266.43,397.93 265.73,397.90 265.03,397.87 264.33,397.83 263.63,397.80 262.93,397.77 262.23,397.74 261.53,397.70 260.84,397.67 260.14,397.63 259.44,397.60 258.74,397.56 258.04,397.52 257.35,397.48 256.65,397.45 255.95,397.41 255.26,397.37 254.56,397.33 253.87,397.29 253.17,397.24 252.47,397.20 251.78,397.16 251.08,397.12 250.39,397.07 249.69,397.03 249.00,396.98 248.30,396.94 247.61,396.89 246.92,396.85 246.22,396.80 245.53,396.75 244.83,396.71 244.14,396.66 243.45,396.61 242.75,396.56 242.06,396.51 241.37,396.46 240.67,396.41 239.98,396.36 239.29,396.31 238.59,396.25 237.90,396.20 237.21,396.15 236.52,396.10 235.82,396.04 235.13,395.99 234.44,395.94 233.75,395.88 233.06,395.83 232.36,395.77 231.67,395.71 230.98,395.66 230.29,395.60 229.60,395.54 228.90,395.49 228.21,395.43 227.52,395.37 226.83,395.31 226.14,395.26 225.45,395.20 224.76,395.14 224.06,395.08 223.37,395.02 222.68,394.96 221.99,394.90 221.30,394.84 220.61,394.78 219.91,394.72 219.22,394.66 218.53,394.59 217.84,394.53 217.15,394.47 216.46,394.41 215.77,394.35 215.07,394.28 214.38,394.22 213.69,394.16 213.00,394.09 212.31,394.03 211.61,393.97 210.92,393.90 210.23,393.84 209.54,393.78 208.85,393.71 208.15,393.65 207.46,393.58 206.77,393.52 206.08,393.45 205.38,393.39 204.69,393.32 204.00,393.26 203.30,393.19 202.61,393.13 201.92,393.06 201.22,393.00 200.53,392.93 199.84,392.87 199.14,392.80 198.45,392.74 197.75,392.67 197.06,392.61 196.37,392.54 195.67,392.47 194.98,392.41 194.28,392.34 193.59,392.28 192.89,392.21 192.20,392.15 191.50,392.08 190.80,392.01 190.11,391.95 189.41,391.88 188.72,391.82 188.02,391.75 187.32,391.69 186.63,391.62 185.93,391.56 185.23,391.49 184.53,391.42 183.83,391.36 183.14,391.29 182.44,391.23 181.74,391.17 181.04,391.10 180.34,391.04 179.64,390.97 178.94,390.91 178.24,390.84 177.54,390.78 176.84,390.72 176.14,390.65 175.44,390.59 174.74,390.52 174.04,390.46 173.33,390.40 172.63,390.34 171.93,390.27 171.23,390.21 170.52,390.15 169.82,390.09 169.12,390.02 168.41,389.96 167.71,389.90 167.00,389.84 166.30,389.78 165.59,389.72 164.88,389.66 164.18,389.60 163.47,389.54 162.77,389.48 162.06,389.42 161.35,389.37 160.64,389.31 159.94,389.25 159.23,389.20 158.52,389.14 157.81,389.09 157.11,389.04 156.40,388.99 155.69,388.94 154.98,388.90 154.27,388.85 153.57,388.81 152.86,388.77 152.15,388.73 151.45,388.69 150.74,388.65 150.03,388.62 149.33,388.59 148.62,388.56 147.91,388.53 147.21,388.51 146.50,388.49 145.80,388.47 145.10,388.45 144.39,388.44 143.69,388.43 142.99,388.42 142.29,388.42 141.59,388.42 140.89,388.42 140.19,388.43 139.49,388.44 138.79,388.45 138.09,388.47 137.39,388.49 136.70,388.52 136.00,388.55 135.31,388.58 134.62,388.62 133.92,388.66 133.23,388.70 132.54,388.75 131.85,388.81 131.16,388.87 130.48,388.93 129.79,389.00 129.10,389.07 128.42,389.15 127.74,389.24 127.06,389.32 126.38,389.42 125.70,389.52 125.02,389.62 124.34,389.74 123.67,389.86 123.00,389.98 122.34,390.12 121.67,390.27 121.02,390.42 120.36,390.59 119.71,390.76 119.07,390.95 118.43,391.15 117.80,391.37 117.18,391.60 116.56,391.84 115.95,392.10 115.35,392.37 114.75,392.66 114.17,392.96 113.59,393.29 113.02,393.63 112.47,393.99 111.92,394.37 111.38,394.77 110.85,395.19 110.34,395.63 109.84,396.09 109.34,396.56 108.86,397.06 108.38,397.57 107.91,398.10 107.45,398.64 107.00,399.20 106.56,399.77 106.12,400.35 105.69,400.94 105.26,401.54 104.84,402.15 104.43,402.77 104.02,403.40 103.61,404.03 103.21,404.67 102.81,405.32 102.41,405.96 102.02,406.61 101.63,407.26 101.24,407.91 100.84,408.56 100.45,409.21 100.06,409.86 99.67,410.50 99.28,411.14 98.89,411.78 98.49,412.41 98.10,413.03 97.69,413.64 97.29,414.25 96.88,414.84 96.47,415.43 96.06,416.00 95.64,416.56 95.21,417.11 94.78,417.64 94.34,418.16 93.89,418.66 93.44,419.15 92.98,419.61 92.51,420.06 92.03,420.48 91.54,420.89 91.05,421.27 90.54,421.63 90.02,421.97 89.49,422.28 88.96,422.57 88.40,422.83 87.84,423.06 87.27,423.26 86.68,423.44 86.09,423.59 85.49,423.71 84.88,423.80 84.27,423.86 83.65,423.90 83.03,423.90 82.40,423.88 81.77,423.83 81.14,423.74 80.51,423.63 79.88,423.48 79.26,423.31 78.63,423.10 78.01,422.87 77.39,422.60 76.78,422.30 76.18,421.97 75.58,421.61 74.99,421.22 74.41,420.80 73.84,420.36 73.28,419.89 72.74,419.39 72.20,418.88 71.69,418.34 71.18,417.79 70.70,417.22 70.22,416.63 69.77,416.03 69.34,415.42 68.93,414.79 68.53,414.16 68.16,413.52 67.81,412.87 67.49,412.22 67.19,411.56 66.91,410.91 66.67,410.25 66.45,409.59 66.26,408.94 66.09,408.29" fill="#F8766D" fill-opacity="0.2" stroke="#E07676" stroke-width="1.05" stroke-linejoin="round"/>
<polyline points="66.07,402.89 66.88,402.91 67.67,402.91 68.44,402.87 69.20,402.80 69.94,402.71 70.66,402.58 71.37,402.43 72.07,402.25 72.75,402.05 73.42,401.82 74.07,401.56 74.70,401.29 75.33,400.99 75.94,400.67 76.53,400.33 77.12,399.97 77.69,399.59 78.24,399.19 78.79,398.77 79.32,398.34 79.84,397.89 80.35,397.43 80.84,396.95 81.33,396.46 81.80,395.96 82.27,395.45 82.72,394.92 83.16,394.39 83.59,393.84 84.01,393.29 84.42,392.73 84.82,392.16 85.22,391.59 85.60,391.02 85.97,390.44 86.34,389.85 86.69,389.26 87.04,388.67 87.38,388.08 87.71,387.49 88.04,386.89 88.36,386.29 88.67,385.68 88.97,385.08 89.27,384.47 89.56,383.86 89.84,383.24 90.12,382.63 90.39,382.01 90.65,381.39 90.92,380.76 91.17,380.13 91.42,379.51 91.67,378.87 91.91,378.24 92.15,377.60 92.38,376.97 92.61,376.32 92.84,375.68 93.06,375.04 93.28,374.39 93.50,373.74 93.71,373.09 93.92,372.43 94.13,371.78 94.34,371.12 94.54,370.46 94.75,369.80 94.95,369.13 95.15,368.47 95.36,367.80 95.56,367.13 95.76,366.46 95.96,365.78 96.16,365.11 96.36,364.43 96.56,363.75 96.76,363.07 96.96,362.39 97.17,361.71 97.37,361.02 97.58,360.33 97.79,359.65 98.00,358.96 98.21,358.26 98.43,357.57 98.64,356.88 98.87,356.18 99.09,355.48 99.32,354.78 99.55,354.08 99.79,353.38 100.03,352.68 100.27,351.98 100.52,351.27 100.77,350.56 101.03,349.86 101.29,349.15 101.56,348.45 101.84,347.74 102.12,347.05 102.41,346.35 102.71,345.67 103.01,344.99 103.33,344.31 103.65,343.65 103.98,343.00 104.32,342.36 104.66,341.73 105.02,341.11 105.39,340.51 105.77,339.92 106.16,339.36 106.56,338.80 106.97,338.27 107.39,337.76 107.83,337.27 108.28,336.80 108.74,336.35 109.22,335.93 109.70,335.53 110.21,335.16 110.72,334.82 111.24,334.50 111.78,334.22 112.32,333.96 112.87,333.74 113.43,333.55 113.99,333.39 114.57,333.27 115.14,333.18 115.72,333.14 116.30,333.13 116.89,333.15 117.48,333.22 118.06,333.32 118.65,333.46 119.24,333.63 119.84,333.84 120.43,334.07 121.02,334.34 121.61,334.63 122.21,334.94 122.80,335.28 123.39,335.64 123.99,336.02 124.58,336.42 125.17,336.84 125.76,337.27 126.35,337.72 126.93,338.18 127.52,338.65 128.10,339.12 128.68,339.61 129.26,340.10 129.84,340.59 130.41,341.09 130.98,341.59 131.55,342.08 132.11,342.58 132.67,343.07 133.23,343.56 133.78,344.05 134.33,344.54 134.88,345.02 135.43,345.51 135.98,345.99 136.52,346.46 137.07,346.94 137.61,347.41 138.15,347.88 138.69,348.35 139.24,348.82 139.78,349.28 140.32,349.74 140.86,350.20 141.40,350.65 141.94,351.10 142.49,351.55 143.03,351.99 143.58,352.43 144.13,352.87 144.68,353.31 145.23,353.74 145.78,354.17 146.33,354.59 146.89,355.01 147.45,355.43 148.01,355.85 148.57,356.26 149.13,356.67 149.70,357.08 150.26,357.48 150.83,357.88 151.40,358.28 151.97,358.67 152.54,359.06 153.12,359.45 153.69,359.84 154.27,360.22 154.85,360.60 155.43,360.98 156.01,361.35 156.60,361.72 157.18,362.09 157.77,362.46 158.36,362.82 158.95,363.18 159.54,363.53 160.13,363.89 160.72,364.24 161.32,364.59 161.92,364.94 162.52,365.28 163.11,365.62 163.72,365.96 164.32,366.30 164.92,366.63 165.53,366.96 166.13,367.29 166.74,367.62 167.35,367.94 167.96,368.26 168.57,368.58 169.19,368.90 169.80,369.21 170.42,369.52 171.03,369.83 171.65,370.14 172.27,370.44 172.89,370.75 173.51,371.05 174.14,371.35 174.76,371.64 175.39,371.94 176.01,372.23 176.64,372.52 177.27,372.80 177.90,373.09 178.53,373.37 179.16,373.65 179.80,373.93 180.43,374.21 181.07,374.49 181.70,374.76 182.34,375.03 182.98,375.30 183.62,375.57 184.26,375.84 184.90,376.10 185.55,376.36 186.19,376.62 186.83,376.88 187.48,377.14 188.13,377.39 188.77,377.65 189.42,377.90 190.07,378.15 190.72,378.40 191.38,378.64 192.03,378.89 192.68,379.13 193.34,379.37 193.99,379.62 194.65,379.85 195.30,380.09 195.96,380.33 196.62,380.56 197.28,380.80 197.94,381.03 198.60,381.26 199.26,381.49 199.92,381.71 200.59,381.94 201.25,382.17 201.92,382.39 202.58,382.61 203.25,382.83 203.92,383.05 204.58,383.27 205.25,383.49 205.92,383.70 206.59,383.91 207.26,384.13 207.93,384.34 208.60,384.55 209.28,384.75 209.95,384.96 210.62,385.17 211.30,385.37 211.97,385.57 212.65,385.78 213.32,385.98 214.00,386.17 214.68,386.37 215.35,386.57 216.03,386.76 216.71,386.96 217.39,387.15 218.07,387.34 218.75,387.53 219.43,387.72 220.11,387.90 220.79,388.09 221.47,388.27 222.15,388.45 222.84,388.64 223.52,388.82 224.20,389.00 224.89,389.17 225.57,389.35 226.25,389.52 226.94,389.70 227.62,389.87 228.31,390.04 229.00,390.21 229.68,390.38 230.37,390.55 231.05,390.71 231.74,390.88 232.43,391.04 233.12,391.20 233.80,391.37 234.49,391.53 235.18,391.68 235.87,391.84 236.56,392.00 237.25,392.15 237.93,392.31 238.62,392.46 239.31,392.61 240.00,392.76 240.69,392.91 241.38,393.06 242.07,393.20 242.76,393.35 243.45,393.49 244.14,393.63 244.83,393.77 245.52,393.91 246.21,394.05 246.90,394.19 247.59,394.33 248.28,394.46 248.97,394.60 249.66,394.73 250.35,394.86 251.04,394.99 251.73,395.12 252.42,395.25 253.11,395.38 253.80,395.50 254.49,395.63 255.18,395.75 255.87,395.87 256.56,396.00 257.25,396.12 257.94,396.23 258.63,396.35 259.31,396.47 260.00,396.58 260.69,396.70 261.38,396.81 262.07,396.92 262.76,397.04 263.44,397.15 264.13,397.25 264.82,397.36 265.51,397.47 266.19,397.57 266.88,397.68 267.56,397.78 268.25,397.88 268.94,397.98 269.62,398.08 270.31,398.18 270.99,398.28 271.67,398.38 272.36,398.47 273.04,398.57 273.72,398.66 274.41,398.75 275.09,398.84 275.77,398.94 276.45,399.02 277.13,399.11 277.81,399.20 278.49,399.29 279.17,399.37 279.85,399.45 280.53,399.54 281.21,399.62 281.89,399.70" fill="none" stroke="#1C9FA2" stroke-width="1.7" stroke-linejoin="round"/>
<polyline points="66.12,403.29 66.17,403.97 66.25,404.65 66.36,405.34 66.51,406.03 66.69,406.73 66.90,407.42 67.14,408.12 67.40,408.81 67.70,409.49 68.02,410.16 68.37,410.82 68.74,411.47 69.13,412.11 69.55,412.73 69.99,413.32 70.45,413.90 70.93,414.46 71.43,414.99 71.95,415.49 72.48,415.97 73.03,416.42 73.60,416.85 74.18,417.23 74.78,417.59 75.39,417.91 76.01,418.20 76.64,418.45 77.28,418.66 77.93,418.83 78.58,418.97 79.24,419.07 79.90,419.13 80.57,419.16 81.23,419.16 81.90,419.13 82.56,419.06 83.21,418.97 83.87,418.84 84.51,418.68 85.14,418.50 85.76,418.29 86.37,418.05 86.97,417.78 87.55,417.50 88.12,417.18 88.66,416.84 89.19,416.48 89.70,416.10 90.20,415.70 90.68,415.28 91.14,414.83 91.59,414.37 92.03,413.89 92.46,413.40 92.87,412.88 93.28,412.35 93.67,411.81 94.05,411.25 94.43,410.68 94.80,410.10 95.15,409.51 95.51,408.90 95.85,408.29 96.19,407.66 96.53,407.03 96.86,406.39 97.19,405.74 97.52,405.09 97.84,404.43 98.17,403.76 98.49,403.10 98.81,402.43 99.14,401.76 99.46,401.08 99.79,400.41 100.12,399.74 100.46,399.06 100.80,398.39 101.14,397.72 101.50,397.06 101.85,396.40 102.22,395.74 102.59,395.09 102.97,394.45 103.36,393.81 103.75,393.18 104.16,392.55 104.56,391.93 104.98,391.32 105.40,390.72 105.83,390.12 106.27,389.53 106.71,388.95 107.16,388.38 107.62,387.82 108.08,387.27 108.55,386.73 109.03,386.20 109.51,385.67 110.00,385.16 110.50,384.66 111.00,384.17 111.51,383.70 112.02,383.23 112.54,382.78 113.07,382.34 113.60,381.91 114.14,381.50 114.69,381.10 115.24,380.71 115.80,380.34 116.36,379.99 116.93,379.64 117.50,379.32 118.08,379.01 118.66,378.71 119.25,378.43 119.85,378.17 120.45,377.93 121.05,377.70 121.66,377.49 122.28,377.30 122.90,377.12 123.52,376.97 124.15,376.83 124.78,376.72 125.42,376.62 126.06,376.53 126.70,376.46 127.35,376.41 128.00,376.36 128.66,376.32 129.32,376.29 129.98,376.27 130.65,376.26 131.31,376.25 131.99,376.25 132.66,376.25 133.34,376.25 134.02,376.26 134.71,376.27 135.40,376.29 136.09,376.31 136.78,376.34 137.47,376.37 138.17,376.40 138.87,376.43 139.57,376.47 140.28,376.52 140.98,376.56 141.69,376.61 142.40,376.66 143.11,376.71 143.82,376.77 144.53,376.83 145.25,376.89 145.96,376.95 146.68,377.01 147.40,377.08 148.12,377.15 148.84,377.22 149.56,377.29 150.28,377.36 151.00,377.43 151.72,377.50 152.44,377.58 153.16,377.65 153.88,377.73 154.61,377.80 155.33,377.88 156.05,377.95 156.77,378.03 157.49,378.11 158.21,378.18 158.93,378.26 159.65,378.33 160.37,378.40 161.09,378.48 161.80,378.55 162.52,378.62 163.24,378.69 163.95,378.76 164.67,378.83 165.38,378.90 166.09,378.97 166.80,379.04 167.52,379.11 168.23,379.18 168.94,379.24 169.65,379.31 170.36,379.38 171.07,379.44 171.77,379.51 172.48,379.57 173.19,379.63 173.90,379.70 174.60,379.76 175.31,379.82 176.01,379.88 176.72,379.95 177.42,380.01 178.12,380.07 178.83,380.13 179.53,380.19 180.23,380.24 180.93,380.30 181.63,380.36 182.33,380.42 183.04,380.48 183.73,380.53 184.43,380.59 185.13,380.64 185.83,380.70 186.53,380.75 187.23,380.81 187.92,380.86 188.62,380.92 189.32,380.97 190.01,381.02 190.71,381.07 191.41,381.13 192.10,381.18 192.80,381.23 193.49,381.28 194.18,381.33 194.88,381.38 195.57,381.43 196.27,381.48 196.96,381.53 197.65,381.57 198.34,381.62 199.04,381.67 199.73,381.72 200.42,381.76 201.11,381.81 201.80,381.86 202.49,381.90 203.19,381.95 203.88,381.99 204.57,382.04 205.26,382.08 205.95,382.13 206.64,382.17 207.33,382.21 208.02,382.26 208.71,382.30 209.40,382.34 210.08,382.38 210.77,382.43 211.46,382.47 212.15,382.51 212.84,382.55 213.53,382.59 214.22,382.63 214.91,382.67 215.60,382.71 216.28,382.75 216.97,382.79 217.66,382.83 218.35,382.87 219.04,382.91 219.73,382.95 220.41,382.98 221.10,383.02 221.79,383.06 222.48,383.10 223.17,383.13 223.86,383.17 224.54,383.21 225.23,383.24 225.92,383.28 226.61,383.31 227.30,383.35 227.99,383.39 228.68,383.42 229.37,383.46 230.05,383.49 230.74,383.53 231.43,383.56 232.12,383.60 232.81,383.63 233.50,383.66 234.19,383.70 234.88,383.73 235.57,383.76 236.26,383.80 236.95,383.83 237.64,383.86 238.34,383.90 239.03,383.93 239.72,383.96 240.41,384.00 241.10,384.03 241.79,384.06 242.49,384.09 243.18,384.12 243.87,384.16 244.56,384.19 245.26,384.22 245.95,384.25 246.65,384.28 247.34,384.31 248.04,384.34 248.73,384.38 249.43,384.41 250.12,384.44 250.82,384.47 251.51,384.50 252.21,384.53 252.91,384.56 253.61,384.59 254.30,384.62 255.00,384.65 255.70,384.68 256.40,384.71 257.10,384.74 257.80,384.77 258.50,384.80 259.20,384.83 259.90,384.86 260.60,384.89 261.31,384.92 262.01,384.95 262.71,384.98 263.42,385.01 264.12,385.04 264.82,385.07 265.53,385.10 266.24,385.13 266.94,385.16 267.65,385.20 268.36,385.23 269.06,385.26 269.77,385.29 270.48,385.32 271.19,385.35 271.90,385.38 272.61,385.41 273.32,385.44 274.04,385.47 274.75,385.50 275.46,385.53 276.18,385.56 276.89,385.59 277.61,385.62 278.32,385.65 279.04,385.68 279.76,385.71 280.47,385.74 281.19,385.77 281.91,385.81" fill="none" stroke="#E0686A" stroke-width="1.7" stroke-linejoin="round"/>
<rect x="55.5" y="261.8" width="237.10000000000002" height="170.2" fill="none" stroke="#7A7A7A" stroke-width="1"/>
<line x1="66.28" y1="432.0" x2="66.28" y2="434.5" stroke="#7A7A7A" stroke-width="1"/>
<line x1="126.18" y1="432.0" x2="126.18" y2="434.5" stroke="#7A7A7A" stroke-width="1"/>
<line x1="186.08" y1="432.0" x2="186.08" y2="434.5" stroke="#7A7A7A" stroke-width="1"/>
<line x1="245.98" y1="432.0" x2="245.98" y2="434.5" stroke="#7A7A7A" stroke-width="1"/>
<line x1="53.0" y1="395.58" x2="55.5" y2="395.58" stroke="#7A7A7A" stroke-width="1"/>
<line x1="53.0" y1="350.79" x2="55.5" y2="350.79" stroke="#7A7A7A" stroke-width="1"/>
<line x1="53.0" y1="306.0" x2="55.5" y2="306.0" stroke="#7A7A7A" stroke-width="1"/>
<text x="66.28" y="439.0" font-size="6.4" class="tk" text-anchor="middle" dominant-baseline="central">0</text>
<text x="126.18" y="439.0" font-size="6.4" class="tk" text-anchor="middle" dominant-baseline="central">25</text>
<text x="186.08" y="439.0" font-size="6.4" class="tk" text-anchor="middle" dominant-baseline="central">50</text>
<text x="245.98" y="439.0" font-size="6.4" class="tk" text-anchor="middle" dominant-baseline="central">75</text>
<text x="51.6" y="395.58" font-size="6.4" class="tk" text-anchor="end" dominant-baseline="central">300</text>
<text x="51.6" y="350.79" font-size="6.4" class="tk" text-anchor="end" dominant-baseline="central">600</text>
<text x="51.6" y="306.0" font-size="6.4" class="tk" text-anchor="end" dominant-baseline="central">900</text>
<text x="174.1" y="448.8" font-size="8.6" class="ti" text-anchor="middle" dominant-baseline="central">Days</text>
<text transform="translate(29.3,346.9) rotate(-90)" font-size="8.75" class="ti" text-anchor="middle">Platelet optical count (10<tspan font-size="5.775" dx="0.4" dy="-3.8">9</tspan><tspan dx="0.6" dy="3.8">/L)</tspan></text>
<text x="304.79999999999995" y="334.0" font-size="8.6" class="ti" dominant-baseline="central">Sepsis</text>
<rect x="305.9" y="340.5" width="10.4" height="10.4" fill="#F8766D" fill-opacity="0.2" stroke="#E07676" stroke-width="0.8" stroke-opacity="0.8"/>
<line x1="305.9" y1="345.7" x2="316.29999999999995" y2="345.7" stroke="#E07676" stroke-width="1.6"/>
<text x="318.59999999999997" y="345.7" font-size="6.88" class="ti" dominant-baseline="central">Yes</text>
<rect x="305.9" y="352.7" width="10.4" height="10.4" fill="#00CDD2" fill-opacity="0.2" stroke="#2A9E9F" stroke-width="0.8" stroke-opacity="0.8"/>
<line x1="305.9" y1="357.9" x2="316.29999999999995" y2="357.9" stroke="#2A9E9F" stroke-width="1.6"/>
<text x="318.59999999999997" y="357.9" font-size="6.88" class="ti" dominant-baseline="central">No</text>
<text x="1.5" y="255.3" font-size="10.5" class="pl">C</text>
</svg>
</body></html>
